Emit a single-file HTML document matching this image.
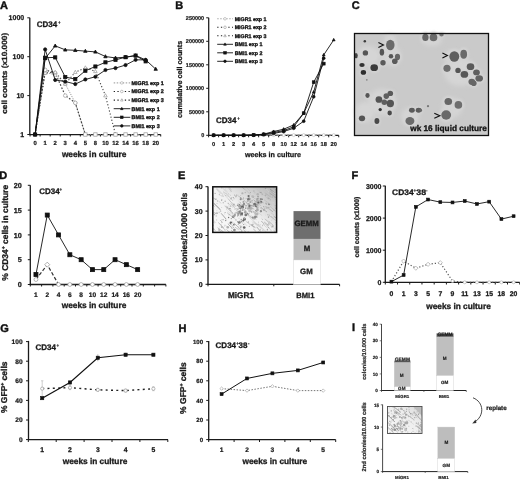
<!DOCTYPE html>
<html><head><meta charset="utf-8"><title>Figure</title>
<style>html,body{margin:0;padding:0;background:#fff;width:520px;height:481px;overflow:hidden}svg{display:block;filter:grayscale(1)}</style>
</head><body>
<svg width="520" height="481" viewBox="0 0 520 481" style='font-family:"Liberation Sans",sans-serif' font-weight="bold" text-rendering="geometricPrecision">
<defs>
<filter id="b1" x="-50%" y="-50%" width="200%" height="200%"><feGaussianBlur stdDeviation="0.75"/></filter>
<filter id="b2" x="-50%" y="-50%" width="200%" height="200%"><feGaussianBlur stdDeviation="2"/></filter>
<linearGradient id="ig" x1="0" y1="1" x2="1" y2="0"><stop offset="0" stop-color="#fafafa"/><stop offset="0.5" stop-color="#f0f0f0"/><stop offset="1" stop-color="#b4b4b4"/></linearGradient>
<linearGradient id="ig2" x1="0" y1="1" x2="1" y2="0"><stop offset="0" stop-color="#f7f7f7"/><stop offset="0.6" stop-color="#eeeeee"/><stop offset="1" stop-color="#d8d8d8"/></linearGradient>
<filter id="b4" x="-50%" y="-50%" width="200%" height="200%"><feGaussianBlur stdDeviation="1.1"/></filter>
<filter id="b3" x="-20%" y="-20%" width="140%" height="140%"><feGaussianBlur stdDeviation="0.35"/></filter>
</defs>
<rect width="520" height="481" fill="#fff"/>
<text x="-0.10" y="8.90" font-size="11" text-anchor="start" fill="#111" stroke="#111" stroke-width="0.412" >A</text>
<text x="175.20" y="8.90" font-size="11" text-anchor="start" fill="#111" stroke="#111" stroke-width="0.412" >B</text>
<text x="351.80" y="9.30" font-size="11" text-anchor="start" fill="#111" stroke="#111" stroke-width="0.412" >C</text>
<text x="-0.80" y="179.20" font-size="11" text-anchor="start" fill="#111" stroke="#111" stroke-width="0.412" >D</text>
<text x="178.10" y="179.20" font-size="11" text-anchor="start" fill="#111" stroke="#111" stroke-width="0.412" >E</text>
<text x="351.50" y="179.20" font-size="11" text-anchor="start" fill="#111" stroke="#111" stroke-width="0.412" >F</text>
<text x="0.30" y="332.20" font-size="11" text-anchor="start" fill="#111" stroke="#111" stroke-width="0.412" >G</text>
<text x="178.50" y="331.50" font-size="11" text-anchor="start" fill="#111" stroke="#111" stroke-width="0.412" >H</text>
<text x="352.00" y="330.50" font-size="11" text-anchor="start" fill="#111" stroke="#111" stroke-width="0.412" >I</text>
<line x1="29.80" y1="17.70" x2="29.80" y2="135.00" stroke="#1a1a1a" stroke-width="1.3" />
<line x1="29.20" y1="134.50" x2="160.70" y2="134.50" stroke="#1a1a1a" stroke-width="1.25" />
<line x1="27.30" y1="134.50" x2="29.80" y2="134.50" stroke="#1a1a1a" stroke-width="1" />
<text x="24.20" y="137.00" font-size="7.0" text-anchor="end" fill="#1a1a1a" stroke="#1a1a1a" stroke-width="0.263" >1</text>
<line x1="27.30" y1="95.60" x2="29.80" y2="95.60" stroke="#1a1a1a" stroke-width="1" />
<text x="24.20" y="98.10" font-size="7.0" text-anchor="end" fill="#1a1a1a" stroke="#1a1a1a" stroke-width="0.263" >10</text>
<line x1="27.30" y1="56.70" x2="29.80" y2="56.70" stroke="#1a1a1a" stroke-width="1" />
<text x="24.20" y="59.20" font-size="7.0" text-anchor="end" fill="#1a1a1a" stroke="#1a1a1a" stroke-width="0.263" >100</text>
<line x1="27.30" y1="17.80" x2="29.80" y2="17.80" stroke="#1a1a1a" stroke-width="1" />
<text x="24.20" y="20.30" font-size="7.0" text-anchor="end" fill="#1a1a1a" stroke="#1a1a1a" stroke-width="0.263" >1000</text>
<line x1="30.07" y1="134.50" x2="30.07" y2="136.50" stroke="#1a1a1a" stroke-width="1" />
<line x1="40.12" y1="134.50" x2="40.12" y2="136.50" stroke="#1a1a1a" stroke-width="1" />
<line x1="50.17" y1="134.50" x2="50.17" y2="136.50" stroke="#1a1a1a" stroke-width="1" />
<line x1="60.22" y1="134.50" x2="60.22" y2="136.50" stroke="#1a1a1a" stroke-width="1" />
<line x1="70.27" y1="134.50" x2="70.27" y2="136.50" stroke="#1a1a1a" stroke-width="1" />
<line x1="80.32" y1="134.50" x2="80.32" y2="136.50" stroke="#1a1a1a" stroke-width="1" />
<line x1="90.37" y1="134.50" x2="90.37" y2="136.50" stroke="#1a1a1a" stroke-width="1" />
<line x1="100.42" y1="134.50" x2="100.42" y2="136.50" stroke="#1a1a1a" stroke-width="1" />
<line x1="110.47" y1="134.50" x2="110.47" y2="136.50" stroke="#1a1a1a" stroke-width="1" />
<line x1="120.52" y1="134.50" x2="120.52" y2="136.50" stroke="#1a1a1a" stroke-width="1" />
<line x1="130.57" y1="134.50" x2="130.57" y2="136.50" stroke="#1a1a1a" stroke-width="1" />
<line x1="140.62" y1="134.50" x2="140.62" y2="136.50" stroke="#1a1a1a" stroke-width="1" />
<line x1="150.67" y1="134.50" x2="150.67" y2="136.50" stroke="#1a1a1a" stroke-width="1" />
<line x1="160.72" y1="134.50" x2="160.72" y2="136.50" stroke="#1a1a1a" stroke-width="1" />
<text x="35.10" y="145.30" font-size="5.9" text-anchor="middle" fill="#1a1a1a" stroke="#1a1a1a" stroke-width="0.221" >0</text>
<text x="45.15" y="145.30" font-size="5.9" text-anchor="middle" fill="#1a1a1a" stroke="#1a1a1a" stroke-width="0.221" >1</text>
<text x="55.20" y="145.30" font-size="5.9" text-anchor="middle" fill="#1a1a1a" stroke="#1a1a1a" stroke-width="0.221" >2</text>
<text x="65.25" y="145.30" font-size="5.9" text-anchor="middle" fill="#1a1a1a" stroke="#1a1a1a" stroke-width="0.221" >3</text>
<text x="75.30" y="145.30" font-size="5.9" text-anchor="middle" fill="#1a1a1a" stroke="#1a1a1a" stroke-width="0.221" >4</text>
<text x="85.35" y="145.30" font-size="5.9" text-anchor="middle" fill="#1a1a1a" stroke="#1a1a1a" stroke-width="0.221" >5</text>
<text x="95.40" y="145.30" font-size="5.9" text-anchor="middle" fill="#1a1a1a" stroke="#1a1a1a" stroke-width="0.221" >8</text>
<text x="105.45" y="145.30" font-size="5.9" text-anchor="middle" fill="#1a1a1a" stroke="#1a1a1a" stroke-width="0.221" >10</text>
<text x="115.50" y="145.30" font-size="5.9" text-anchor="middle" fill="#1a1a1a" stroke="#1a1a1a" stroke-width="0.221" >12</text>
<text x="125.55" y="145.30" font-size="5.9" text-anchor="middle" fill="#1a1a1a" stroke="#1a1a1a" stroke-width="0.221" >14</text>
<text x="135.60" y="145.30" font-size="5.9" text-anchor="middle" fill="#1a1a1a" stroke="#1a1a1a" stroke-width="0.221" >16</text>
<text x="145.65" y="145.30" font-size="5.9" text-anchor="middle" fill="#1a1a1a" stroke="#1a1a1a" stroke-width="0.221" >18</text>
<text x="155.70" y="145.30" font-size="5.9" text-anchor="middle" fill="#1a1a1a" stroke="#1a1a1a" stroke-width="0.221" >20</text>
<text x="94.20" y="156.80" font-size="8.3" text-anchor="middle" fill="#1a1a1a" stroke="#1a1a1a" stroke-width="0.311" >weeks in culture</text>
<text x="0" y="0" font-size="7.5" text-anchor="middle" fill="#1a1a1a" stroke="#1a1a1a" stroke-width="0.281" textLength="81.0" lengthAdjust="spacingAndGlyphs" transform="translate(6.60,73.30) rotate(-90)">cell counts (x10.000)</text>
<text x="36.80" y="26.90" font-size="8.0" text-anchor="start" fill="#1a1a1a" stroke="#1a1a1a" stroke-width="0.300" >CD34</text>
<text x="58.00" y="23.80" font-size="4.5" text-anchor="start" fill="#1a1a1a" stroke="#1a1a1a" stroke-width="0.169" >+</text>
<polyline points="35.10,134.50 45.15,72.18 55.20,74.93 65.25,83.89 75.30,102.88 85.35,134.50 95.40,134.50 105.45,134.50 115.50,134.50 125.55,134.50 135.60,134.50 145.65,134.50 155.70,134.50" fill="none" stroke="#9a9a9a" stroke-width="1" stroke-dasharray="1.2,1.2" />
<polyline points="35.10,134.50 45.15,69.82 55.20,73.05 65.25,95.60 75.30,102.88 85.35,134.50 95.40,134.50 105.45,134.50 115.50,134.50 125.55,134.50 135.60,134.50 145.65,134.50 155.70,134.50" fill="none" stroke="#444" stroke-width="1.2" stroke-dasharray="1.6,1.8" />
<polyline points="35.10,134.50 45.15,73.05 55.20,72.18 65.25,83.89 75.30,72.18 85.35,67.75 95.40,71.36 105.45,95.60 115.50,134.50 125.55,134.50 135.60,134.50 145.65,134.50 155.70,134.50" fill="none" stroke="#444" stroke-width="1.1" stroke-dasharray="1.2,2" />
<circle cx="45.15" cy="72.18" r="1.70" fill="#fff" stroke="#aaa" stroke-width="0.7"/>
<circle cx="55.20" cy="74.93" r="1.70" fill="#fff" stroke="#aaa" stroke-width="0.7"/>
<circle cx="65.25" cy="83.89" r="1.70" fill="#fff" stroke="#aaa" stroke-width="0.7"/>
<circle cx="75.30" cy="102.88" r="1.70" fill="#fff" stroke="#aaa" stroke-width="0.7"/>
<rect x="83.65" y="132.80" width="3.40" height="3.40" fill="#fff" stroke="#999" stroke-width="0.7"/>
<rect x="93.70" y="132.80" width="3.40" height="3.40" fill="#fff" stroke="#999" stroke-width="0.7"/>
<rect x="103.75" y="132.80" width="3.40" height="3.40" fill="#fff" stroke="#999" stroke-width="0.7"/>
<rect x="113.80" y="132.80" width="3.40" height="3.40" fill="#fff" stroke="#999" stroke-width="0.7"/>
<rect x="123.85" y="132.80" width="3.40" height="3.40" fill="#fff" stroke="#999" stroke-width="0.7"/>
<rect x="133.90" y="132.80" width="3.40" height="3.40" fill="#fff" stroke="#999" stroke-width="0.7"/>
<rect x="143.95" y="132.80" width="3.40" height="3.40" fill="#fff" stroke="#999" stroke-width="0.7"/>
<rect x="154.00" y="132.80" width="3.40" height="3.40" fill="#fff" stroke="#999" stroke-width="0.7"/>
<circle cx="45.15" cy="69.82" r="1.80" fill="#fff" stroke="#999" stroke-width="0.7"/>
<circle cx="55.20" cy="73.05" r="1.80" fill="#fff" stroke="#999" stroke-width="0.7"/>
<circle cx="65.25" cy="95.60" r="1.80" fill="#fff" stroke="#999" stroke-width="0.7"/>
<circle cx="75.30" cy="102.88" r="1.80" fill="#fff" stroke="#999" stroke-width="0.7"/>
<polygon points="45.15,71.10 43.35,74.34 46.95,74.34" fill="#fff" stroke="#999" stroke-width="0.7"/>
<polygon points="55.20,70.24 53.40,73.48 57.00,73.48" fill="#fff" stroke="#999" stroke-width="0.7"/>
<polygon points="65.25,81.95 63.45,85.19 67.05,85.19" fill="#fff" stroke="#999" stroke-width="0.7"/>
<polygon points="75.30,70.24 73.50,73.48 77.10,73.48" fill="#fff" stroke="#999" stroke-width="0.7"/>
<polygon points="85.35,65.80 83.55,69.04 87.15,69.04" fill="#fff" stroke="#999" stroke-width="0.7"/>
<polygon points="95.40,69.41 93.60,72.65 97.20,72.65" fill="#fff" stroke="#999" stroke-width="0.7"/>
<polygon points="105.45,93.66 103.65,96.90 107.25,96.90" fill="#fff" stroke="#999" stroke-width="0.7"/>
<polyline points="35.10,134.50 45.15,58.48 55.20,45.86 65.25,49.85 75.30,50.31 85.35,51.14 95.40,51.88 105.45,56.53 115.50,57.93 125.55,57.21 135.60,55.56 145.65,59.85 155.70,69.10" fill="none" stroke="#111" stroke-width="0.9" />
<polyline points="35.10,134.50 45.15,57.75 55.20,57.39 65.25,77.04 75.30,79.14 85.35,70.72 95.40,66.50 105.45,62.34 115.50,59.85 125.55,57.21 135.60,55.56 145.65,61.34" fill="none" stroke="#111" stroke-width="0.9" />
<polyline points="35.10,134.50 45.15,49.41 55.20,79.99 65.25,81.53 75.30,84.06 85.35,79.46 95.40,76.76 105.45,70.00 115.50,68.08 125.55,65.05 135.60,59.85 145.65,59.85" fill="none" stroke="#111" stroke-width="0.9" />
<polygon points="35.10,132.66 33.40,135.72 36.80,135.72" fill="#111" stroke="#111" stroke-width="0.8"/>
<polygon points="45.15,56.64 43.45,59.70 46.85,59.70" fill="#111" stroke="#111" stroke-width="0.8"/>
<polygon points="55.20,44.02 53.50,47.08 56.90,47.08" fill="#111" stroke="#111" stroke-width="0.8"/>
<polygon points="65.25,48.01 63.55,51.07 66.95,51.07" fill="#111" stroke="#111" stroke-width="0.8"/>
<polygon points="75.30,48.47 73.60,51.53 77.00,51.53" fill="#111" stroke="#111" stroke-width="0.8"/>
<polygon points="85.35,49.30 83.65,52.36 87.05,52.36" fill="#111" stroke="#111" stroke-width="0.8"/>
<polygon points="95.40,50.05 93.70,53.11 97.10,53.11" fill="#111" stroke="#111" stroke-width="0.8"/>
<polygon points="105.45,54.70 103.75,57.76 107.15,57.76" fill="#111" stroke="#111" stroke-width="0.8"/>
<polygon points="115.50,56.09 113.80,59.15 117.20,59.15" fill="#111" stroke="#111" stroke-width="0.8"/>
<polygon points="125.55,55.38 123.85,58.44 127.25,58.44" fill="#111" stroke="#111" stroke-width="0.8"/>
<polygon points="135.60,53.72 133.90,56.78 137.30,56.78" fill="#111" stroke="#111" stroke-width="0.8"/>
<polygon points="145.65,58.01 143.95,61.07 147.35,61.07" fill="#111" stroke="#111" stroke-width="0.8"/>
<polygon points="155.70,67.26 154.00,70.32 157.40,70.32" fill="#111" stroke="#111" stroke-width="0.8"/>
<rect x="33.50" y="132.90" width="3.20" height="3.20" fill="#111" stroke="#111" stroke-width="0.8"/>
<rect x="43.55" y="56.15" width="3.20" height="3.20" fill="#111" stroke="#111" stroke-width="0.8"/>
<rect x="53.60" y="55.79" width="3.20" height="3.20" fill="#111" stroke="#111" stroke-width="0.8"/>
<rect x="63.65" y="75.44" width="3.20" height="3.20" fill="#111" stroke="#111" stroke-width="0.8"/>
<rect x="73.70" y="77.54" width="3.20" height="3.20" fill="#111" stroke="#111" stroke-width="0.8"/>
<rect x="83.75" y="69.12" width="3.20" height="3.20" fill="#111" stroke="#111" stroke-width="0.8"/>
<rect x="93.80" y="64.90" width="3.20" height="3.20" fill="#111" stroke="#111" stroke-width="0.8"/>
<rect x="103.85" y="60.74" width="3.20" height="3.20" fill="#111" stroke="#111" stroke-width="0.8"/>
<rect x="113.90" y="58.25" width="3.20" height="3.20" fill="#111" stroke="#111" stroke-width="0.8"/>
<rect x="123.95" y="55.61" width="3.20" height="3.20" fill="#111" stroke="#111" stroke-width="0.8"/>
<rect x="134.00" y="53.96" width="3.20" height="3.20" fill="#111" stroke="#111" stroke-width="0.8"/>
<rect x="144.05" y="59.74" width="3.20" height="3.20" fill="#111" stroke="#111" stroke-width="0.8"/>
<circle cx="35.10" cy="134.50" r="1.60" fill="#111" stroke="#111" stroke-width="0.8"/>
<circle cx="45.15" cy="49.41" r="1.60" fill="#111" stroke="#111" stroke-width="0.8"/>
<circle cx="55.20" cy="79.99" r="1.60" fill="#111" stroke="#111" stroke-width="0.8"/>
<circle cx="65.25" cy="81.53" r="1.60" fill="#111" stroke="#111" stroke-width="0.8"/>
<circle cx="75.30" cy="84.06" r="1.60" fill="#111" stroke="#111" stroke-width="0.8"/>
<circle cx="85.35" cy="79.46" r="1.60" fill="#111" stroke="#111" stroke-width="0.8"/>
<circle cx="95.40" cy="76.76" r="1.60" fill="#111" stroke="#111" stroke-width="0.8"/>
<circle cx="105.45" cy="70.00" r="1.60" fill="#111" stroke="#111" stroke-width="0.8"/>
<circle cx="115.50" cy="68.08" r="1.60" fill="#111" stroke="#111" stroke-width="0.8"/>
<circle cx="125.55" cy="65.05" r="1.60" fill="#111" stroke="#111" stroke-width="0.8"/>
<circle cx="135.60" cy="59.85" r="1.60" fill="#111" stroke="#111" stroke-width="0.8"/>
<circle cx="145.65" cy="59.85" r="1.60" fill="#111" stroke="#111" stroke-width="0.8"/>
<polyline points="113.70,82.90 130.30,82.90" fill="none" stroke="#aaa" stroke-width="1.1" stroke-dasharray="1.5,1.5" />
<circle cx="121.80" cy="82.90" r="1.30" fill="#fff" stroke="#aaa" stroke-width="0.6"/>
<text x="131.50" y="84.80" font-size="5.4" text-anchor="start" fill="#111" stroke="#111" stroke-width="0.338" >MiGR1 exp 1</text>
<polyline points="113.70,91.50 130.30,91.50" fill="none" stroke="#222" stroke-width="1.1" stroke-dasharray="1.3,2.4" />
<circle cx="121.80" cy="91.50" r="1.30" fill="#fff" stroke="#999" stroke-width="0.6"/>
<text x="131.50" y="93.40" font-size="5.4" text-anchor="start" fill="#111" stroke="#111" stroke-width="0.338" >MiGR1 exp 2</text>
<polyline points="113.70,100.10 130.30,100.10" fill="none" stroke="#222" stroke-width="1.1" stroke-dasharray="1.3,2.4" />
<polygon points="121.80,98.70 120.50,101.04 123.10,101.04" fill="#fff" stroke="#999" stroke-width="0.6"/>
<text x="131.50" y="102.00" font-size="5.4" text-anchor="start" fill="#111" stroke="#111" stroke-width="0.338" >MiGR1 exp 3</text>
<polyline points="113.70,108.70 130.30,108.70" fill="none" stroke="#111" stroke-width="0.9" />
<polygon points="121.80,107.30 120.50,109.64 123.10,109.64" fill="#111" stroke="#111" stroke-width="0.6"/>
<text x="131.50" y="110.60" font-size="5.4" text-anchor="start" fill="#111" stroke="#111" stroke-width="0.338" >BMI1 exp 1</text>
<polyline points="113.70,117.30 130.30,117.30" fill="none" stroke="#111" stroke-width="0.9" />
<rect x="120.50" y="116.00" width="2.60" height="2.60" fill="#111" stroke="#111" stroke-width="0.6"/>
<text x="131.50" y="119.20" font-size="5.4" text-anchor="start" fill="#111" stroke="#111" stroke-width="0.338" >BMI1 exp 2</text>
<polyline points="113.70,125.90 130.30,125.90" fill="none" stroke="#111" stroke-width="0.9" />
<circle cx="121.80" cy="125.90" r="1.30" fill="#111" stroke="#111" stroke-width="0.6"/>
<text x="131.50" y="127.80" font-size="5.4" text-anchor="start" fill="#111" stroke="#111" stroke-width="0.338" >BMI1 exp 3</text>
<line x1="208.70" y1="17.70" x2="208.70" y2="135.30" stroke="#1a1a1a" stroke-width="1.25" />
<line x1="208.20" y1="135.30" x2="338.70" y2="135.30" stroke="#1a1a1a" stroke-width="1.2" />
<line x1="206.20" y1="135.30" x2="208.70" y2="135.30" stroke="#1a1a1a" stroke-width="1" />
<text x="204.20" y="137.30" font-size="5.5" text-anchor="end" fill="#1a1a1a" stroke="#1a1a1a" stroke-width="0.206" >0</text>
<line x1="206.20" y1="111.80" x2="208.70" y2="111.80" stroke="#1a1a1a" stroke-width="1" />
<text x="204.20" y="113.80" font-size="5.5" text-anchor="end" fill="#1a1a1a" stroke="#1a1a1a" stroke-width="0.206" >50000</text>
<line x1="206.20" y1="88.30" x2="208.70" y2="88.30" stroke="#1a1a1a" stroke-width="1" />
<text x="204.20" y="90.30" font-size="5.5" text-anchor="end" fill="#1a1a1a" stroke="#1a1a1a" stroke-width="0.206" >100000</text>
<line x1="206.20" y1="64.80" x2="208.70" y2="64.80" stroke="#1a1a1a" stroke-width="1" />
<text x="204.20" y="66.80" font-size="5.5" text-anchor="end" fill="#1a1a1a" stroke="#1a1a1a" stroke-width="0.206" >150000</text>
<line x1="206.20" y1="41.30" x2="208.70" y2="41.30" stroke="#1a1a1a" stroke-width="1" />
<text x="204.20" y="43.30" font-size="5.5" text-anchor="end" fill="#1a1a1a" stroke="#1a1a1a" stroke-width="0.206" >200000</text>
<line x1="206.20" y1="17.80" x2="208.70" y2="17.80" stroke="#1a1a1a" stroke-width="1" />
<text x="204.20" y="19.80" font-size="5.5" text-anchor="end" fill="#1a1a1a" stroke="#1a1a1a" stroke-width="0.206" >250000</text>
<line x1="208.60" y1="135.30" x2="208.60" y2="137.30" stroke="#1a1a1a" stroke-width="1" />
<line x1="218.61" y1="135.30" x2="218.61" y2="137.30" stroke="#1a1a1a" stroke-width="1" />
<line x1="228.62" y1="135.30" x2="228.62" y2="137.30" stroke="#1a1a1a" stroke-width="1" />
<line x1="238.63" y1="135.30" x2="238.63" y2="137.30" stroke="#1a1a1a" stroke-width="1" />
<line x1="248.64" y1="135.30" x2="248.64" y2="137.30" stroke="#1a1a1a" stroke-width="1" />
<line x1="258.65" y1="135.30" x2="258.65" y2="137.30" stroke="#1a1a1a" stroke-width="1" />
<line x1="268.66" y1="135.30" x2="268.66" y2="137.30" stroke="#1a1a1a" stroke-width="1" />
<line x1="278.67" y1="135.30" x2="278.67" y2="137.30" stroke="#1a1a1a" stroke-width="1" />
<line x1="288.68" y1="135.30" x2="288.68" y2="137.30" stroke="#1a1a1a" stroke-width="1" />
<line x1="298.69" y1="135.30" x2="298.69" y2="137.30" stroke="#1a1a1a" stroke-width="1" />
<line x1="308.70" y1="135.30" x2="308.70" y2="137.30" stroke="#1a1a1a" stroke-width="1" />
<line x1="318.71" y1="135.30" x2="318.71" y2="137.30" stroke="#1a1a1a" stroke-width="1" />
<line x1="328.72" y1="135.30" x2="328.72" y2="137.30" stroke="#1a1a1a" stroke-width="1" />
<line x1="338.73" y1="135.30" x2="338.73" y2="137.30" stroke="#1a1a1a" stroke-width="1" />
<text x="213.60" y="146.00" font-size="5.7" text-anchor="middle" fill="#1a1a1a" stroke="#1a1a1a" stroke-width="0.214" >0</text>
<text x="223.61" y="146.00" font-size="5.7" text-anchor="middle" fill="#1a1a1a" stroke="#1a1a1a" stroke-width="0.214" >1</text>
<text x="233.62" y="146.00" font-size="5.7" text-anchor="middle" fill="#1a1a1a" stroke="#1a1a1a" stroke-width="0.214" >2</text>
<text x="243.63" y="146.00" font-size="5.7" text-anchor="middle" fill="#1a1a1a" stroke="#1a1a1a" stroke-width="0.214" >3</text>
<text x="253.64" y="146.00" font-size="5.7" text-anchor="middle" fill="#1a1a1a" stroke="#1a1a1a" stroke-width="0.214" >4</text>
<text x="263.65" y="146.00" font-size="5.7" text-anchor="middle" fill="#1a1a1a" stroke="#1a1a1a" stroke-width="0.214" >5</text>
<text x="273.66" y="146.00" font-size="5.7" text-anchor="middle" fill="#1a1a1a" stroke="#1a1a1a" stroke-width="0.214" >8</text>
<text x="283.67" y="146.00" font-size="5.7" text-anchor="middle" fill="#1a1a1a" stroke="#1a1a1a" stroke-width="0.214" >10</text>
<text x="293.68" y="146.00" font-size="5.7" text-anchor="middle" fill="#1a1a1a" stroke="#1a1a1a" stroke-width="0.214" >12</text>
<text x="303.69" y="146.00" font-size="5.7" text-anchor="middle" fill="#1a1a1a" stroke="#1a1a1a" stroke-width="0.214" >14</text>
<text x="313.70" y="146.00" font-size="5.7" text-anchor="middle" fill="#1a1a1a" stroke="#1a1a1a" stroke-width="0.214" >16</text>
<text x="323.71" y="146.00" font-size="5.7" text-anchor="middle" fill="#1a1a1a" stroke="#1a1a1a" stroke-width="0.214" >18</text>
<text x="333.72" y="146.00" font-size="5.7" text-anchor="middle" fill="#1a1a1a" stroke="#1a1a1a" stroke-width="0.214" >20</text>
<text x="273.00" y="156.80" font-size="7.2" text-anchor="middle" fill="#1a1a1a" stroke="#1a1a1a" stroke-width="0.270" >weeks in culture</text>
<text x="0" y="0" font-size="7.2" text-anchor="middle" fill="#1a1a1a" stroke="#1a1a1a" stroke-width="0.270" transform="translate(181.70,79.40) rotate(-90)">cumulative cell counts</text>
<text x="216.00" y="122.70" font-size="8.0" text-anchor="start" fill="#1a1a1a" stroke="#1a1a1a" stroke-width="0.300" >CD34</text>
<text x="237.30" y="119.60" font-size="4.5" text-anchor="start" fill="#1a1a1a" stroke="#1a1a1a" stroke-width="0.169" >+</text>
<polyline points="213.60,135.30 223.61,135.30 233.62,135.30 243.63,135.30 253.64,135.30 263.65,135.30 273.66,135.30 283.67,135.30 293.68,135.30 303.69,135.30 313.70,135.30 323.71,135.30 333.72,135.30" fill="none" stroke="#888" stroke-width="0.8" stroke-dasharray="2,1.5" />
<polyline points="213.60,135.30 223.61,135.30 233.62,135.30 243.63,135.30 253.64,135.30 263.65,135.30 273.66,135.30 283.67,135.30 293.68,135.30 303.69,135.30 313.70,135.30 323.71,135.30 333.72,135.30" fill="none" stroke="#888" stroke-width="0.8" stroke-dasharray="2,1.5" />
<polyline points="213.60,135.30 223.61,135.30 233.62,135.30 243.63,135.30 253.64,135.30 263.65,135.30 273.66,135.30 283.67,135.30 293.68,135.30 303.69,135.30 313.70,135.30 323.71,135.30 333.72,135.30" fill="none" stroke="#888" stroke-width="0.8" stroke-dasharray="2,1.5" />
<circle cx="213.60" cy="135.10" r="1.50" fill="#fff" stroke="#bbb" stroke-width="0.6"/>
<circle cx="223.61" cy="135.10" r="1.50" fill="#fff" stroke="#bbb" stroke-width="0.6"/>
<circle cx="233.62" cy="135.10" r="1.50" fill="#fff" stroke="#bbb" stroke-width="0.6"/>
<circle cx="243.63" cy="135.10" r="1.50" fill="#fff" stroke="#bbb" stroke-width="0.6"/>
<circle cx="253.64" cy="135.10" r="1.50" fill="#fff" stroke="#bbb" stroke-width="0.6"/>
<circle cx="263.65" cy="135.10" r="1.50" fill="#fff" stroke="#bbb" stroke-width="0.6"/>
<circle cx="273.66" cy="135.10" r="1.50" fill="#fff" stroke="#bbb" stroke-width="0.6"/>
<circle cx="283.67" cy="135.10" r="1.50" fill="#fff" stroke="#bbb" stroke-width="0.6"/>
<circle cx="293.68" cy="135.10" r="1.50" fill="#fff" stroke="#bbb" stroke-width="0.6"/>
<circle cx="303.69" cy="135.10" r="1.50" fill="#fff" stroke="#bbb" stroke-width="0.6"/>
<circle cx="313.70" cy="135.10" r="1.50" fill="#fff" stroke="#bbb" stroke-width="0.6"/>
<circle cx="323.71" cy="135.10" r="1.50" fill="#fff" stroke="#bbb" stroke-width="0.6"/>
<circle cx="333.72" cy="135.10" r="1.50" fill="#fff" stroke="#bbb" stroke-width="0.6"/>
<polyline points="213.60,135.30 223.61,135.30 233.62,135.30 243.63,135.30 253.64,135.06 263.65,134.12 273.66,131.54 283.67,129.19 293.68,124.96 303.69,113.21 313.70,92.06 323.71,54.93 333.72,39.89" fill="none" stroke="#111" stroke-width="0.9" />
<polygon points="213.60,133.73 212.15,136.34 215.05,136.34" fill="#111" stroke="#111" stroke-width="0.6"/>
<polygon points="223.61,133.73 222.16,136.34 225.06,136.34" fill="#111" stroke="#111" stroke-width="0.6"/>
<polygon points="233.62,133.73 232.17,136.34 235.07,136.34" fill="#111" stroke="#111" stroke-width="0.6"/>
<polygon points="243.63,133.73 242.18,136.34 245.08,136.34" fill="#111" stroke="#111" stroke-width="0.6"/>
<polygon points="253.64,133.50 252.19,136.11 255.09,136.11" fill="#111" stroke="#111" stroke-width="0.6"/>
<polygon points="263.65,132.56 262.20,135.17 265.10,135.17" fill="#111" stroke="#111" stroke-width="0.6"/>
<polygon points="273.66,129.97 272.21,132.58 275.11,132.58" fill="#111" stroke="#111" stroke-width="0.6"/>
<polygon points="283.67,127.62 282.22,130.23 285.12,130.23" fill="#111" stroke="#111" stroke-width="0.6"/>
<polygon points="293.68,123.39 292.23,126.00 295.13,126.00" fill="#111" stroke="#111" stroke-width="0.6"/>
<polygon points="303.69,111.64 302.24,114.25 305.14,114.25" fill="#111" stroke="#111" stroke-width="0.6"/>
<polygon points="313.70,90.49 312.25,93.10 315.15,93.10" fill="#111" stroke="#111" stroke-width="0.6"/>
<polygon points="323.71,53.36 322.26,55.97 325.16,55.97" fill="#111" stroke="#111" stroke-width="0.6"/>
<polygon points="333.72,38.32 332.27,40.93 335.17,40.93" fill="#111" stroke="#111" stroke-width="0.6"/>
<polyline points="213.60,135.30 223.61,135.30 233.62,135.30 243.63,135.30 253.64,135.16 263.65,134.59 273.66,133.42 283.67,131.54 293.68,128.25 303.69,121.20 313.70,96.76 323.71,58.22" fill="none" stroke="#111" stroke-width="0.9" />
<circle cx="213.60" cy="135.30" r="1.45" fill="#111" stroke="#111" stroke-width="0.6"/>
<circle cx="223.61" cy="135.30" r="1.45" fill="#111" stroke="#111" stroke-width="0.6"/>
<circle cx="233.62" cy="135.30" r="1.45" fill="#111" stroke="#111" stroke-width="0.6"/>
<circle cx="243.63" cy="135.30" r="1.45" fill="#111" stroke="#111" stroke-width="0.6"/>
<circle cx="253.64" cy="135.16" r="1.45" fill="#111" stroke="#111" stroke-width="0.6"/>
<circle cx="263.65" cy="134.59" r="1.45" fill="#111" stroke="#111" stroke-width="0.6"/>
<circle cx="273.66" cy="133.42" r="1.45" fill="#111" stroke="#111" stroke-width="0.6"/>
<circle cx="283.67" cy="131.54" r="1.45" fill="#111" stroke="#111" stroke-width="0.6"/>
<circle cx="293.68" cy="128.25" r="1.45" fill="#111" stroke="#111" stroke-width="0.6"/>
<circle cx="303.69" cy="121.20" r="1.45" fill="#111" stroke="#111" stroke-width="0.6"/>
<circle cx="313.70" cy="96.76" r="1.45" fill="#111" stroke="#111" stroke-width="0.6"/>
<circle cx="323.71" cy="58.22" r="1.45" fill="#111" stroke="#111" stroke-width="0.6"/>
<polyline points="213.60,135.30 223.61,135.30 233.62,135.30 243.63,135.30 253.64,135.06 263.65,134.36 273.66,132.48 283.67,130.60 293.68,126.84 303.69,113.21 313.70,82.19 323.71,63.63" fill="none" stroke="#111" stroke-width="0.9" />
<rect x="212.15" y="133.85" width="2.90" height="2.90" fill="#111" stroke="#111" stroke-width="0.6"/>
<rect x="222.16" y="133.85" width="2.90" height="2.90" fill="#111" stroke="#111" stroke-width="0.6"/>
<rect x="232.17" y="133.85" width="2.90" height="2.90" fill="#111" stroke="#111" stroke-width="0.6"/>
<rect x="242.18" y="133.85" width="2.90" height="2.90" fill="#111" stroke="#111" stroke-width="0.6"/>
<rect x="252.19" y="133.62" width="2.90" height="2.90" fill="#111" stroke="#111" stroke-width="0.6"/>
<rect x="262.20" y="132.91" width="2.90" height="2.90" fill="#111" stroke="#111" stroke-width="0.6"/>
<rect x="272.21" y="131.03" width="2.90" height="2.90" fill="#111" stroke="#111" stroke-width="0.6"/>
<rect x="282.22" y="129.15" width="2.90" height="2.90" fill="#111" stroke="#111" stroke-width="0.6"/>
<rect x="292.23" y="125.39" width="2.90" height="2.90" fill="#111" stroke="#111" stroke-width="0.6"/>
<rect x="302.24" y="111.76" width="2.90" height="2.90" fill="#111" stroke="#111" stroke-width="0.6"/>
<rect x="312.25" y="80.74" width="2.90" height="2.90" fill="#111" stroke="#111" stroke-width="0.6"/>
<rect x="322.26" y="62.18" width="2.90" height="2.90" fill="#111" stroke="#111" stroke-width="0.6"/>
<polyline points="217.20,18.80 233.00,18.80" fill="none" stroke="#aaa" stroke-width="1.1" stroke-dasharray="1.5,1.5" />
<circle cx="225.00" cy="18.80" r="1.30" fill="#fff" stroke="#aaa" stroke-width="0.6"/>
<text x="234.70" y="20.70" font-size="5.3" text-anchor="start" fill="#111" stroke="#111" stroke-width="0.331" >MiGR1 exp 1</text>
<polyline points="217.20,27.30 233.00,27.30" fill="none" stroke="#222" stroke-width="1.1" stroke-dasharray="1.3,2.4" />
<circle cx="225.00" cy="27.30" r="1.30" fill="#fff" stroke="#999" stroke-width="0.6"/>
<text x="234.70" y="29.20" font-size="5.3" text-anchor="start" fill="#111" stroke="#111" stroke-width="0.331" >MiGR1 exp 2</text>
<polyline points="217.20,35.80 233.00,35.80" fill="none" stroke="#222" stroke-width="1.1" stroke-dasharray="1.3,2.4" />
<polygon points="225.00,34.40 223.70,36.74 226.30,36.74" fill="#fff" stroke="#999" stroke-width="0.6"/>
<text x="234.70" y="37.70" font-size="5.3" text-anchor="start" fill="#111" stroke="#111" stroke-width="0.331" >MiGR1 exp 3</text>
<polyline points="217.20,44.30 233.00,44.30" fill="none" stroke="#111" stroke-width="0.9" />
<polygon points="225.00,42.90 223.70,45.24 226.30,45.24" fill="#111" stroke="#111" stroke-width="0.6"/>
<text x="234.70" y="46.20" font-size="5.3" text-anchor="start" fill="#111" stroke="#111" stroke-width="0.331" >BMI1 exp 1</text>
<polyline points="217.20,52.80 233.00,52.80" fill="none" stroke="#111" stroke-width="0.9" />
<rect x="223.70" y="51.50" width="2.60" height="2.60" fill="#111" stroke="#111" stroke-width="0.6"/>
<text x="234.70" y="54.70" font-size="5.3" text-anchor="start" fill="#111" stroke="#111" stroke-width="0.331" >BMI1 exp 2</text>
<polyline points="217.20,61.30 233.00,61.30" fill="none" stroke="#111" stroke-width="0.9" />
<circle cx="225.00" cy="61.30" r="1.30" fill="#111" stroke="#111" stroke-width="0.6"/>
<text x="234.70" y="63.20" font-size="5.3" text-anchor="start" fill="#111" stroke="#111" stroke-width="0.331" >BMI1 exp 3</text>
<line x1="30.30" y1="185.20" x2="30.30" y2="285.00" stroke="#1a1a1a" stroke-width="1.3" />
<line x1="29.70" y1="284.50" x2="165.90" y2="284.50" stroke="#1a1a1a" stroke-width="1.3" />
<line x1="27.80" y1="284.50" x2="30.30" y2="284.50" stroke="#1a1a1a" stroke-width="1" />
<text x="21.70" y="287.10" font-size="7.2" text-anchor="end" fill="#1a1a1a" stroke="#1a1a1a" stroke-width="0.270" >0</text>
<line x1="27.80" y1="259.70" x2="30.30" y2="259.70" stroke="#1a1a1a" stroke-width="1" />
<text x="21.70" y="262.30" font-size="7.2" text-anchor="end" fill="#1a1a1a" stroke="#1a1a1a" stroke-width="0.270" >5</text>
<line x1="27.80" y1="234.90" x2="30.30" y2="234.90" stroke="#1a1a1a" stroke-width="1" />
<text x="21.70" y="237.50" font-size="7.2" text-anchor="end" fill="#1a1a1a" stroke="#1a1a1a" stroke-width="0.270" >10</text>
<line x1="27.80" y1="210.10" x2="30.30" y2="210.10" stroke="#1a1a1a" stroke-width="1" />
<text x="21.70" y="212.70" font-size="7.2" text-anchor="end" fill="#1a1a1a" stroke="#1a1a1a" stroke-width="0.270" >15</text>
<line x1="27.80" y1="185.30" x2="30.30" y2="185.30" stroke="#1a1a1a" stroke-width="1" />
<text x="21.70" y="187.90" font-size="7.2" text-anchor="end" fill="#1a1a1a" stroke="#1a1a1a" stroke-width="0.270" >20</text>
<line x1="30.30" y1="284.50" x2="30.30" y2="286.50" stroke="#1a1a1a" stroke-width="1" />
<line x1="41.60" y1="284.50" x2="41.60" y2="286.50" stroke="#1a1a1a" stroke-width="1" />
<line x1="52.90" y1="284.50" x2="52.90" y2="286.50" stroke="#1a1a1a" stroke-width="1" />
<line x1="64.20" y1="284.50" x2="64.20" y2="286.50" stroke="#1a1a1a" stroke-width="1" />
<line x1="75.50" y1="284.50" x2="75.50" y2="286.50" stroke="#1a1a1a" stroke-width="1" />
<line x1="86.80" y1="284.50" x2="86.80" y2="286.50" stroke="#1a1a1a" stroke-width="1" />
<line x1="98.10" y1="284.50" x2="98.10" y2="286.50" stroke="#1a1a1a" stroke-width="1" />
<line x1="109.40" y1="284.50" x2="109.40" y2="286.50" stroke="#1a1a1a" stroke-width="1" />
<line x1="120.70" y1="284.50" x2="120.70" y2="286.50" stroke="#1a1a1a" stroke-width="1" />
<line x1="132.00" y1="284.50" x2="132.00" y2="286.50" stroke="#1a1a1a" stroke-width="1" />
<line x1="143.30" y1="284.50" x2="143.30" y2="286.50" stroke="#1a1a1a" stroke-width="1" />
<line x1="154.60" y1="284.50" x2="154.60" y2="286.50" stroke="#1a1a1a" stroke-width="1" />
<line x1="165.90" y1="284.50" x2="165.90" y2="286.50" stroke="#1a1a1a" stroke-width="1" />
<text x="35.95" y="297.00" font-size="6.6" text-anchor="middle" fill="#1a1a1a" stroke="#1a1a1a" stroke-width="0.247" >1</text>
<text x="47.25" y="297.00" font-size="6.6" text-anchor="middle" fill="#1a1a1a" stroke="#1a1a1a" stroke-width="0.247" >2</text>
<text x="58.55" y="297.00" font-size="6.6" text-anchor="middle" fill="#1a1a1a" stroke="#1a1a1a" stroke-width="0.247" >4</text>
<text x="69.85" y="297.00" font-size="6.6" text-anchor="middle" fill="#1a1a1a" stroke="#1a1a1a" stroke-width="0.247" >6</text>
<text x="81.15" y="297.00" font-size="6.6" text-anchor="middle" fill="#1a1a1a" stroke="#1a1a1a" stroke-width="0.247" >8</text>
<text x="92.45" y="297.00" font-size="6.6" text-anchor="middle" fill="#1a1a1a" stroke="#1a1a1a" stroke-width="0.247" >10</text>
<text x="103.75" y="297.00" font-size="6.6" text-anchor="middle" fill="#1a1a1a" stroke="#1a1a1a" stroke-width="0.247" >12</text>
<text x="115.05" y="297.00" font-size="6.6" text-anchor="middle" fill="#1a1a1a" stroke="#1a1a1a" stroke-width="0.247" >14</text>
<text x="126.35" y="297.00" font-size="6.6" text-anchor="middle" fill="#1a1a1a" stroke="#1a1a1a" stroke-width="0.247" >16</text>
<text x="137.65" y="297.00" font-size="6.6" text-anchor="middle" fill="#1a1a1a" stroke="#1a1a1a" stroke-width="0.247" >20</text>
<text x="94.00" y="308.30" font-size="8.3" text-anchor="middle" fill="#1a1a1a" stroke="#1a1a1a" stroke-width="0.311" >weeks in culture</text>
<text x="0" y="0" font-size="8.45" text-anchor="middle" fill="#1a1a1a" stroke="#1a1a1a" stroke-width="0.317" transform="translate(8.00,232.80) rotate(-90)">% CD34<tspan font-size="5" dy="-3">+</tspan><tspan dy="3"> cells in culture</tspan></text>
<text x="39.20" y="194.00" font-size="8.0" text-anchor="start" fill="#1a1a1a" stroke="#1a1a1a" stroke-width="0.300" >CD34</text>
<text x="59.60" y="190.60" font-size="4.5" text-anchor="start" fill="#1a1a1a" stroke="#1a1a1a" stroke-width="0.169" >+</text>
<polyline points="35.95,279.54 47.25,264.66 58.55,284.50 69.85,284.50 81.15,284.50 92.45,284.50 103.75,284.50 115.05,284.50 126.35,284.50 137.65,284.50" fill="none" stroke="#333" stroke-width="1.2" stroke-dasharray="3.5,2" />
<circle cx="35.95" cy="279.54" r="1.95" fill="#fff" stroke="#999" stroke-width="0.7"/>
<polygon points="47.25,262.16 49.75,264.66 47.25,267.16 44.75,264.66" fill="#fff" stroke="#888" stroke-width="0.7"/>
<circle cx="58.55" cy="284.50" r="1.95" fill="#fff" stroke="#999" stroke-width="0.7"/>
<circle cx="69.85" cy="284.50" r="1.95" fill="#fff" stroke="#999" stroke-width="0.7"/>
<circle cx="81.15" cy="284.50" r="1.95" fill="#fff" stroke="#999" stroke-width="0.7"/>
<circle cx="92.45" cy="284.50" r="1.95" fill="#fff" stroke="#999" stroke-width="0.7"/>
<circle cx="103.75" cy="284.50" r="1.95" fill="#fff" stroke="#999" stroke-width="0.7"/>
<circle cx="115.05" cy="284.50" r="1.95" fill="#fff" stroke="#999" stroke-width="0.7"/>
<circle cx="126.35" cy="284.50" r="1.95" fill="#fff" stroke="#999" stroke-width="0.7"/>
<circle cx="137.65" cy="284.50" r="1.95" fill="#fff" stroke="#999" stroke-width="0.7"/>
<polyline points="35.95,274.58 47.25,215.06 58.55,234.90 69.85,254.74 81.15,259.70 92.45,269.62 103.75,269.62 115.05,259.70 126.35,264.66 137.65,269.62" fill="none" stroke="#111" stroke-width="0.9" />
<rect x="33.95" y="272.58" width="4.00" height="4.00" fill="#111" stroke="#111" stroke-width="0.8"/>
<rect x="45.25" y="213.06" width="4.00" height="4.00" fill="#111" stroke="#111" stroke-width="0.8"/>
<rect x="56.55" y="232.90" width="4.00" height="4.00" fill="#111" stroke="#111" stroke-width="0.8"/>
<rect x="67.85" y="252.74" width="4.00" height="4.00" fill="#111" stroke="#111" stroke-width="0.8"/>
<rect x="79.15" y="257.70" width="4.00" height="4.00" fill="#111" stroke="#111" stroke-width="0.8"/>
<rect x="90.45" y="267.62" width="4.00" height="4.00" fill="#111" stroke="#111" stroke-width="0.8"/>
<rect x="101.75" y="267.62" width="4.00" height="4.00" fill="#111" stroke="#111" stroke-width="0.8"/>
<rect x="113.05" y="257.70" width="4.00" height="4.00" fill="#111" stroke="#111" stroke-width="0.8"/>
<rect x="124.35" y="262.66" width="4.00" height="4.00" fill="#111" stroke="#111" stroke-width="0.8"/>
<rect x="135.65" y="267.62" width="4.00" height="4.00" fill="#111" stroke="#111" stroke-width="0.8"/>
<line x1="208.00" y1="186.50" x2="208.00" y2="284.80" stroke="#1a1a1a" stroke-width="1.35" />
<line x1="207.40" y1="284.30" x2="339.60" y2="284.30" stroke="#1a1a1a" stroke-width="1.3" />
<line x1="205.50" y1="284.30" x2="208.00" y2="284.30" stroke="#1a1a1a" stroke-width="1" />
<text x="202.60" y="286.80" font-size="7.0" text-anchor="end" fill="#1a1a1a" stroke="#1a1a1a" stroke-width="0.263" >0</text>
<line x1="205.50" y1="259.90" x2="208.00" y2="259.90" stroke="#1a1a1a" stroke-width="1" />
<text x="202.60" y="262.40" font-size="7.0" text-anchor="end" fill="#1a1a1a" stroke="#1a1a1a" stroke-width="0.263" >10</text>
<line x1="205.50" y1="235.50" x2="208.00" y2="235.50" stroke="#1a1a1a" stroke-width="1" />
<text x="202.60" y="238.00" font-size="7.0" text-anchor="end" fill="#1a1a1a" stroke="#1a1a1a" stroke-width="0.263" >20</text>
<line x1="205.50" y1="211.10" x2="208.00" y2="211.10" stroke="#1a1a1a" stroke-width="1" />
<text x="202.60" y="213.60" font-size="7.0" text-anchor="end" fill="#1a1a1a" stroke="#1a1a1a" stroke-width="0.263" >30</text>
<line x1="205.50" y1="186.70" x2="208.00" y2="186.70" stroke="#1a1a1a" stroke-width="1" />
<text x="202.60" y="189.20" font-size="7.0" text-anchor="end" fill="#1a1a1a" stroke="#1a1a1a" stroke-width="0.263" >40</text>
<line x1="208.00" y1="284.30" x2="208.00" y2="286.30" stroke="#1a1a1a" stroke-width="1" />
<line x1="273.80" y1="284.30" x2="273.80" y2="286.30" stroke="#1a1a1a" stroke-width="1" />
<line x1="339.60" y1="284.30" x2="339.60" y2="286.30" stroke="#1a1a1a" stroke-width="1" />
<text x="240.90" y="298.00" font-size="8.2" text-anchor="middle" fill="#1a1a1a" stroke="#1a1a1a" stroke-width="0.307" >MiGR1</text>
<text x="305.30" y="298.00" font-size="7.6" text-anchor="middle" fill="#1a1a1a" stroke="#1a1a1a" stroke-width="0.285" >BMI1</text>
<text x="0" y="0" font-size="8.2" text-anchor="middle" fill="#1a1a1a" stroke="#1a1a1a" stroke-width="0.307" transform="translate(187.00,233.20) rotate(-90)">colonies/10.000 cells</text>
<rect x="293.5" y="259.90" width="27" height="24.40" fill="#fff" stroke="#ddd" stroke-width="0.6"/>
<rect x="293.5" y="238.92" width="27" height="20.98" fill="#bdbdbd"/>
<rect x="293.5" y="211.10" width="27" height="27.82" fill="#6e6e6e"/>
<text x="306.60" y="226.40" font-size="7.8" text-anchor="middle" fill="#1a1a1a" stroke="#1a1a1a" stroke-width="0.292" >GEMM</text>
<text x="306.90" y="251.10" font-size="7.8" text-anchor="middle" fill="#1a1a1a" stroke="#1a1a1a" stroke-width="0.292" >M</text>
<text x="306.40" y="274.10" font-size="7.8" text-anchor="middle" fill="#1a1a1a" stroke="#1a1a1a" stroke-width="0.292" >GM</text>
<line x1="385.30" y1="185.80" x2="385.30" y2="282.80" stroke="#1a1a1a" stroke-width="1.3" />
<line x1="384.70" y1="282.30" x2="519.70" y2="282.30" stroke="#1a1a1a" stroke-width="1.3" />
<line x1="382.80" y1="282.30" x2="385.30" y2="282.30" stroke="#1a1a1a" stroke-width="1" />
<text x="381.50" y="284.90" font-size="7.0" text-anchor="end" fill="#1a1a1a" stroke="#1a1a1a" stroke-width="0.263" >0</text>
<line x1="382.80" y1="250.20" x2="385.30" y2="250.20" stroke="#1a1a1a" stroke-width="1" />
<text x="381.50" y="252.80" font-size="7.0" text-anchor="end" fill="#1a1a1a" stroke="#1a1a1a" stroke-width="0.263" >1000</text>
<line x1="382.80" y1="218.10" x2="385.30" y2="218.10" stroke="#1a1a1a" stroke-width="1" />
<text x="381.50" y="220.70" font-size="7.0" text-anchor="end" fill="#1a1a1a" stroke="#1a1a1a" stroke-width="0.263" >2000</text>
<line x1="382.80" y1="186.00" x2="385.30" y2="186.00" stroke="#1a1a1a" stroke-width="1" />
<text x="381.50" y="188.60" font-size="7.0" text-anchor="end" fill="#1a1a1a" stroke="#1a1a1a" stroke-width="0.263" >3000</text>
<line x1="385.30" y1="282.30" x2="385.30" y2="284.50" stroke="#1a1a1a" stroke-width="1" />
<line x1="397.52" y1="282.30" x2="397.52" y2="284.50" stroke="#1a1a1a" stroke-width="1" />
<line x1="409.74" y1="282.30" x2="409.74" y2="284.50" stroke="#1a1a1a" stroke-width="1" />
<line x1="421.96" y1="282.30" x2="421.96" y2="284.50" stroke="#1a1a1a" stroke-width="1" />
<line x1="434.18" y1="282.30" x2="434.18" y2="284.50" stroke="#1a1a1a" stroke-width="1" />
<line x1="446.40" y1="282.30" x2="446.40" y2="284.50" stroke="#1a1a1a" stroke-width="1" />
<line x1="458.62" y1="282.30" x2="458.62" y2="284.50" stroke="#1a1a1a" stroke-width="1" />
<line x1="470.84" y1="282.30" x2="470.84" y2="284.50" stroke="#1a1a1a" stroke-width="1" />
<line x1="483.06" y1="282.30" x2="483.06" y2="284.50" stroke="#1a1a1a" stroke-width="1" />
<line x1="495.28" y1="282.30" x2="495.28" y2="284.50" stroke="#1a1a1a" stroke-width="1" />
<line x1="507.50" y1="282.30" x2="507.50" y2="284.50" stroke="#1a1a1a" stroke-width="1" />
<line x1="519.72" y1="282.30" x2="519.72" y2="284.50" stroke="#1a1a1a" stroke-width="1" />
<text x="391.41" y="296.30" font-size="6.8" text-anchor="middle" fill="#1a1a1a" stroke="#1a1a1a" stroke-width="0.255" >0</text>
<text x="403.63" y="296.30" font-size="6.8" text-anchor="middle" fill="#1a1a1a" stroke="#1a1a1a" stroke-width="0.255" >1</text>
<text x="415.85" y="296.30" font-size="6.8" text-anchor="middle" fill="#1a1a1a" stroke="#1a1a1a" stroke-width="0.255" >3</text>
<text x="428.07" y="296.30" font-size="6.8" text-anchor="middle" fill="#1a1a1a" stroke="#1a1a1a" stroke-width="0.255" >5</text>
<text x="440.29" y="296.30" font-size="6.8" text-anchor="middle" fill="#1a1a1a" stroke="#1a1a1a" stroke-width="0.255" >7</text>
<text x="452.51" y="296.30" font-size="6.8" text-anchor="middle" fill="#1a1a1a" stroke="#1a1a1a" stroke-width="0.255" >9</text>
<text x="464.73" y="296.30" font-size="6.8" text-anchor="middle" fill="#1a1a1a" stroke="#1a1a1a" stroke-width="0.255" >11</text>
<text x="476.95" y="296.30" font-size="6.8" text-anchor="middle" fill="#1a1a1a" stroke="#1a1a1a" stroke-width="0.255" >13</text>
<text x="489.17" y="296.30" font-size="6.8" text-anchor="middle" fill="#1a1a1a" stroke="#1a1a1a" stroke-width="0.255" >15</text>
<text x="501.39" y="296.30" font-size="6.8" text-anchor="middle" fill="#1a1a1a" stroke="#1a1a1a" stroke-width="0.255" >18</text>
<text x="513.61" y="296.30" font-size="6.8" text-anchor="middle" fill="#1a1a1a" stroke="#1a1a1a" stroke-width="0.255" >20</text>
<text x="458.50" y="308.50" font-size="8.3" text-anchor="middle" fill="#1a1a1a" stroke="#1a1a1a" stroke-width="0.311" >weeks in culture</text>
<text x="0" y="0" font-size="6.8" text-anchor="middle" fill="#1a1a1a" stroke="#1a1a1a" stroke-width="0.255" transform="translate(359.20,227.10) rotate(-90)">cell counts (x1000)</text>
<text x="392.10" y="195.00" font-size="8.0" text-anchor="start" fill="#1a1a1a" stroke="#1a1a1a" stroke-width="0.300" textLength="21.6" lengthAdjust="spacingAndGlyphs">CD34</text>
<text x="413.40" y="192.00" font-size="4.6" text-anchor="start" fill="#1a1a1a" stroke="#1a1a1a" stroke-width="0.172" >+</text>
<text x="416.30" y="195.00" font-size="8.0" text-anchor="start" fill="#1a1a1a" stroke="#1a1a1a" stroke-width="0.300" textLength="9.8" lengthAdjust="spacingAndGlyphs">38</text>
<text x="426.00" y="192.20" font-size="4.6" text-anchor="start" fill="#1a1a1a" stroke="#1a1a1a" stroke-width="0.172" >-</text>
<polyline points="391.41,281.66 403.63,261.11 415.85,268.18 428.07,264.32 440.29,262.72 452.51,281.02 464.73,282.30 476.95,282.30 489.17,282.30 501.39,282.30 513.61,282.30" fill="none" stroke="#555" stroke-width="1.2" stroke-dasharray="1.2,2" />
<polygon points="403.63,259.01 405.73,261.11 403.63,263.21 401.53,261.11" fill="#fff" stroke="#999" stroke-width="0.6"/>
<polygon points="415.85,266.08 417.95,268.18 415.85,270.28 413.75,268.18" fill="#fff" stroke="#999" stroke-width="0.6"/>
<polygon points="428.07,262.22 430.17,264.32 428.07,266.42 425.97,264.32" fill="#fff" stroke="#999" stroke-width="0.6"/>
<polygon points="440.29,260.62 442.39,262.72 440.29,264.82 438.19,262.72" fill="#fff" stroke="#999" stroke-width="0.6"/>
<circle cx="452.51" cy="281.02" r="1.50" fill="#fff" stroke="#aaa" stroke-width="0.6"/>
<circle cx="464.73" cy="282.30" r="1.50" fill="#fff" stroke="#aaa" stroke-width="0.6"/>
<circle cx="476.95" cy="282.30" r="1.50" fill="#fff" stroke="#aaa" stroke-width="0.6"/>
<circle cx="489.17" cy="282.30" r="1.50" fill="#fff" stroke="#aaa" stroke-width="0.6"/>
<circle cx="501.39" cy="282.30" r="1.50" fill="#fff" stroke="#aaa" stroke-width="0.6"/>
<circle cx="513.61" cy="282.30" r="1.50" fill="#fff" stroke="#aaa" stroke-width="0.6"/>
<polyline points="391.41,281.66 403.63,275.08 415.85,206.87 428.07,199.55 440.29,202.15 452.51,202.44 464.73,201.05 476.95,203.98 489.17,201.66 501.39,219.10 513.61,216.21" fill="none" stroke="#111" stroke-width="0.9" />
<rect x="389.96" y="280.21" width="2.90" height="2.90" fill="#111" stroke="#111" stroke-width="0.6"/>
<rect x="402.18" y="273.63" width="2.90" height="2.90" fill="#111" stroke="#111" stroke-width="0.6"/>
<rect x="414.40" y="205.42" width="2.90" height="2.90" fill="#111" stroke="#111" stroke-width="0.6"/>
<rect x="426.62" y="198.10" width="2.90" height="2.90" fill="#111" stroke="#111" stroke-width="0.6"/>
<rect x="438.84" y="200.70" width="2.90" height="2.90" fill="#111" stroke="#111" stroke-width="0.6"/>
<rect x="451.06" y="200.99" width="2.90" height="2.90" fill="#111" stroke="#111" stroke-width="0.6"/>
<rect x="463.28" y="199.60" width="2.90" height="2.90" fill="#111" stroke="#111" stroke-width="0.6"/>
<rect x="475.50" y="202.53" width="2.90" height="2.90" fill="#111" stroke="#111" stroke-width="0.6"/>
<rect x="487.72" y="200.21" width="2.90" height="2.90" fill="#111" stroke="#111" stroke-width="0.6"/>
<rect x="499.94" y="217.65" width="2.90" height="2.90" fill="#111" stroke="#111" stroke-width="0.6"/>
<rect x="512.16" y="214.76" width="2.90" height="2.90" fill="#111" stroke="#111" stroke-width="0.6"/>
<line x1="28.50" y1="340.90" x2="28.50" y2="440.20" stroke="#1a1a1a" stroke-width="1.3" />
<line x1="27.90" y1="439.60" x2="168.00" y2="439.60" stroke="#1a1a1a" stroke-width="1.3" />
<line x1="26.00" y1="439.60" x2="28.50" y2="439.60" stroke="#1a1a1a" stroke-width="1" />
<text x="22.60" y="442.00" font-size="6.6" text-anchor="end" fill="#1a1a1a" stroke="#1a1a1a" stroke-width="0.247" >0</text>
<line x1="26.00" y1="420.00" x2="28.50" y2="420.00" stroke="#1a1a1a" stroke-width="1" />
<text x="22.60" y="422.40" font-size="6.6" text-anchor="end" fill="#1a1a1a" stroke="#1a1a1a" stroke-width="0.247" >20</text>
<line x1="26.00" y1="400.40" x2="28.50" y2="400.40" stroke="#1a1a1a" stroke-width="1" />
<text x="22.60" y="402.80" font-size="6.6" text-anchor="end" fill="#1a1a1a" stroke="#1a1a1a" stroke-width="0.247" >40</text>
<line x1="26.00" y1="380.80" x2="28.50" y2="380.80" stroke="#1a1a1a" stroke-width="1" />
<text x="22.60" y="383.20" font-size="6.6" text-anchor="end" fill="#1a1a1a" stroke="#1a1a1a" stroke-width="0.247" >60</text>
<line x1="26.00" y1="361.20" x2="28.50" y2="361.20" stroke="#1a1a1a" stroke-width="1" />
<text x="22.60" y="363.60" font-size="6.6" text-anchor="end" fill="#1a1a1a" stroke="#1a1a1a" stroke-width="0.247" >80</text>
<line x1="26.00" y1="341.60" x2="28.50" y2="341.60" stroke="#1a1a1a" stroke-width="1" />
<text x="22.60" y="344.00" font-size="6.6" text-anchor="end" fill="#1a1a1a" stroke="#1a1a1a" stroke-width="0.247" >100</text>
<line x1="28.30" y1="439.60" x2="28.30" y2="442.00" stroke="#1a1a1a" stroke-width="1" />
<line x1="56.20" y1="439.60" x2="56.20" y2="442.00" stroke="#1a1a1a" stroke-width="1" />
<line x1="84.10" y1="439.60" x2="84.10" y2="442.00" stroke="#1a1a1a" stroke-width="1" />
<line x1="112.00" y1="439.60" x2="112.00" y2="442.00" stroke="#1a1a1a" stroke-width="1" />
<line x1="139.90" y1="439.60" x2="139.90" y2="442.00" stroke="#1a1a1a" stroke-width="1" />
<line x1="167.80" y1="439.60" x2="167.80" y2="442.00" stroke="#1a1a1a" stroke-width="1" />
<text x="42.20" y="452.40" font-size="6.8" text-anchor="middle" fill="#1a1a1a" stroke="#1a1a1a" stroke-width="0.255" >1</text>
<text x="70.00" y="452.40" font-size="6.8" text-anchor="middle" fill="#1a1a1a" stroke="#1a1a1a" stroke-width="0.255" >2</text>
<text x="97.80" y="452.40" font-size="6.8" text-anchor="middle" fill="#1a1a1a" stroke="#1a1a1a" stroke-width="0.255" >3</text>
<text x="125.60" y="452.40" font-size="6.8" text-anchor="middle" fill="#1a1a1a" stroke="#1a1a1a" stroke-width="0.255" >4</text>
<text x="153.40" y="452.40" font-size="6.8" text-anchor="middle" fill="#1a1a1a" stroke="#1a1a1a" stroke-width="0.255" >5</text>
<text x="95.00" y="464.30" font-size="8.3" text-anchor="middle" fill="#1a1a1a" stroke="#1a1a1a" stroke-width="0.311" >weeks in culture</text>
<text x="0" y="0" font-size="8.5" text-anchor="middle" fill="#1a1a1a" stroke="#1a1a1a" stroke-width="0.319" transform="translate(6.50,387.30) rotate(-90)">% GFP<tspan font-size="5" dy="-3">+</tspan><tspan dy="3"> cells</tspan></text>
<text x="35.50" y="349.70" font-size="8.0" text-anchor="start" fill="#1a1a1a" stroke="#1a1a1a" stroke-width="0.300" >CD34</text>
<text x="56.50" y="346.80" font-size="4.5" text-anchor="start" fill="#1a1a1a" stroke="#1a1a1a" stroke-width="0.169" >+</text>
<line x1="42.20" y1="380.80" x2="42.20" y2="396.48" stroke="#bbb" stroke-width="0.7" />
<line x1="41.00" y1="380.80" x2="43.40" y2="380.80" stroke="#bbb" stroke-width="0.7" />
<line x1="41.00" y1="396.48" x2="43.40" y2="396.48" stroke="#bbb" stroke-width="0.7" />
<line x1="42.20" y1="397.17" x2="42.20" y2="399.13" stroke="#999" stroke-width="0.7" />
<line x1="70.00" y1="385.70" x2="70.00" y2="389.62" stroke="#bbb" stroke-width="0.7" />
<line x1="68.80" y1="385.70" x2="71.20" y2="385.70" stroke="#bbb" stroke-width="0.7" />
<line x1="68.80" y1="389.62" x2="71.20" y2="389.62" stroke="#bbb" stroke-width="0.7" />
<line x1="70.00" y1="380.51" x2="70.00" y2="384.43" stroke="#999" stroke-width="0.7" />
<line x1="97.80" y1="388.35" x2="97.80" y2="391.29" stroke="#bbb" stroke-width="0.7" />
<line x1="96.60" y1="388.35" x2="99.00" y2="388.35" stroke="#bbb" stroke-width="0.7" />
<line x1="96.60" y1="391.29" x2="99.00" y2="391.29" stroke="#bbb" stroke-width="0.7" />
<line x1="97.80" y1="354.34" x2="97.80" y2="361.20" stroke="#999" stroke-width="0.7" />
<line x1="125.60" y1="389.13" x2="125.60" y2="392.07" stroke="#bbb" stroke-width="0.7" />
<line x1="124.40" y1="389.13" x2="126.80" y2="389.13" stroke="#bbb" stroke-width="0.7" />
<line x1="124.40" y1="392.07" x2="126.80" y2="392.07" stroke="#bbb" stroke-width="0.7" />
<line x1="125.60" y1="352.77" x2="125.60" y2="356.69" stroke="#999" stroke-width="0.7" />
<line x1="153.40" y1="386.78" x2="153.40" y2="390.70" stroke="#bbb" stroke-width="0.7" />
<line x1="152.20" y1="386.78" x2="154.60" y2="386.78" stroke="#bbb" stroke-width="0.7" />
<line x1="152.20" y1="390.70" x2="154.60" y2="390.70" stroke="#bbb" stroke-width="0.7" />
<line x1="153.40" y1="353.26" x2="153.40" y2="356.20" stroke="#999" stroke-width="0.7" />
<polyline points="42.20,388.64 70.00,387.66 97.80,389.82 125.60,390.60 153.40,388.74" fill="none" stroke="#222" stroke-width="1.4" stroke-dasharray="2,3.3" />
<circle cx="42.20" cy="388.64" r="1.60" fill="#fff" stroke="#999" stroke-width="0.7"/>
<circle cx="70.00" cy="387.66" r="1.60" fill="#fff" stroke="#999" stroke-width="0.7"/>
<circle cx="97.80" cy="389.82" r="1.60" fill="#fff" stroke="#999" stroke-width="0.7"/>
<circle cx="125.60" cy="390.60" r="1.60" fill="#fff" stroke="#999" stroke-width="0.7"/>
<circle cx="153.40" cy="388.74" r="1.60" fill="#fff" stroke="#999" stroke-width="0.7"/>
<polyline points="42.20,398.15 70.00,382.47 97.80,357.77 125.60,354.73 153.40,354.73" fill="none" stroke="#111" stroke-width="1.2" />
<rect x="40.60" y="396.55" width="3.20" height="3.20" fill="#111" stroke="#111" stroke-width="0.6"/>
<rect x="68.40" y="380.87" width="3.20" height="3.20" fill="#111" stroke="#111" stroke-width="0.6"/>
<rect x="96.20" y="356.17" width="3.20" height="3.20" fill="#111" stroke="#111" stroke-width="0.6"/>
<rect x="124.00" y="353.13" width="3.20" height="3.20" fill="#111" stroke="#111" stroke-width="0.6"/>
<rect x="151.80" y="353.13" width="3.20" height="3.20" fill="#111" stroke="#111" stroke-width="0.6"/>
<line x1="208.70" y1="340.90" x2="208.70" y2="440.20" stroke="#1a1a1a" stroke-width="1.3" />
<line x1="208.10" y1="439.60" x2="335.70" y2="439.60" stroke="#1a1a1a" stroke-width="1.3" />
<line x1="206.20" y1="439.60" x2="208.70" y2="439.60" stroke="#1a1a1a" stroke-width="1" />
<text x="203.00" y="441.80" font-size="6.0" text-anchor="end" fill="#1a1a1a" stroke="#1a1a1a" stroke-width="0.225" >0</text>
<line x1="206.20" y1="420.00" x2="208.70" y2="420.00" stroke="#1a1a1a" stroke-width="1" />
<text x="203.00" y="422.20" font-size="6.0" text-anchor="end" fill="#1a1a1a" stroke="#1a1a1a" stroke-width="0.225" >20</text>
<line x1="206.20" y1="400.40" x2="208.70" y2="400.40" stroke="#1a1a1a" stroke-width="1" />
<text x="203.00" y="402.60" font-size="6.0" text-anchor="end" fill="#1a1a1a" stroke="#1a1a1a" stroke-width="0.225" >40</text>
<line x1="206.20" y1="380.80" x2="208.70" y2="380.80" stroke="#1a1a1a" stroke-width="1" />
<text x="203.00" y="383.00" font-size="6.0" text-anchor="end" fill="#1a1a1a" stroke="#1a1a1a" stroke-width="0.225" >60</text>
<line x1="206.20" y1="361.20" x2="208.70" y2="361.20" stroke="#1a1a1a" stroke-width="1" />
<text x="203.00" y="363.40" font-size="6.0" text-anchor="end" fill="#1a1a1a" stroke="#1a1a1a" stroke-width="0.225" >80</text>
<line x1="206.20" y1="341.60" x2="208.70" y2="341.60" stroke="#1a1a1a" stroke-width="1" />
<text x="203.00" y="343.80" font-size="6.0" text-anchor="end" fill="#1a1a1a" stroke="#1a1a1a" stroke-width="0.225" >100</text>
<line x1="208.70" y1="439.60" x2="208.70" y2="442.00" stroke="#1a1a1a" stroke-width="1" />
<line x1="234.10" y1="439.60" x2="234.10" y2="442.00" stroke="#1a1a1a" stroke-width="1" />
<line x1="259.50" y1="439.60" x2="259.50" y2="442.00" stroke="#1a1a1a" stroke-width="1" />
<line x1="284.90" y1="439.60" x2="284.90" y2="442.00" stroke="#1a1a1a" stroke-width="1" />
<line x1="310.30" y1="439.60" x2="310.30" y2="442.00" stroke="#1a1a1a" stroke-width="1" />
<line x1="335.70" y1="439.60" x2="335.70" y2="442.00" stroke="#1a1a1a" stroke-width="1" />
<text x="221.60" y="452.40" font-size="6.6" text-anchor="middle" fill="#1a1a1a" stroke="#1a1a1a" stroke-width="0.247" >1</text>
<text x="247.00" y="452.40" font-size="6.6" text-anchor="middle" fill="#1a1a1a" stroke="#1a1a1a" stroke-width="0.247" >2</text>
<text x="272.40" y="452.40" font-size="6.6" text-anchor="middle" fill="#1a1a1a" stroke="#1a1a1a" stroke-width="0.247" >3</text>
<text x="297.80" y="452.40" font-size="6.6" text-anchor="middle" fill="#1a1a1a" stroke="#1a1a1a" stroke-width="0.247" >4</text>
<text x="323.20" y="452.40" font-size="6.6" text-anchor="middle" fill="#1a1a1a" stroke="#1a1a1a" stroke-width="0.247" >5</text>
<text x="274.80" y="464.30" font-size="8.3" text-anchor="middle" fill="#1a1a1a" stroke="#1a1a1a" stroke-width="0.311" >weeks in culture</text>
<text x="0" y="0" font-size="8.5" text-anchor="middle" fill="#1a1a1a" stroke="#1a1a1a" stroke-width="0.319" transform="translate(185.60,388.10) rotate(-90)">% GFP<tspan font-size="5" dy="-3">+</tspan><tspan dy="3"> cells</tspan></text>
<text x="215.60" y="347.90" font-size="8.0" text-anchor="start" fill="#1a1a1a" stroke="#1a1a1a" stroke-width="0.300" >CD34</text>
<text x="236.20" y="344.60" font-size="4.5" text-anchor="start" fill="#1a1a1a" stroke="#1a1a1a" stroke-width="0.169" >+</text>
<text x="238.60" y="347.90" font-size="8.0" text-anchor="start" fill="#1a1a1a" stroke="#1a1a1a" stroke-width="0.300" >38</text>
<text x="248.00" y="345.00" font-size="4.5" text-anchor="start" fill="#1a1a1a" stroke="#1a1a1a" stroke-width="0.169" >-</text>
<polyline points="221.60,388.64 247.00,390.60 272.40,386.29 297.80,390.60 323.20,390.60" fill="none" stroke="#666" stroke-width="0.9" stroke-dasharray="1.5,1.5" />
<polygon points="221.60,386.94 223.30,388.64 221.60,390.34 219.90,388.64" fill="#fff" stroke="#999" stroke-width="0.6"/>
<polygon points="247.00,388.90 248.70,390.60 247.00,392.30 245.30,390.60" fill="#fff" stroke="#999" stroke-width="0.6"/>
<polygon points="272.40,384.59 274.10,386.29 272.40,387.99 270.70,386.29" fill="#fff" stroke="#999" stroke-width="0.6"/>
<polygon points="297.80,388.90 299.50,390.60 297.80,392.30 296.10,390.60" fill="#fff" stroke="#999" stroke-width="0.6"/>
<polygon points="323.20,388.90 324.90,390.60 323.20,392.30 321.50,390.60" fill="#fff" stroke="#999" stroke-width="0.6"/>
<polyline points="221.60,394.13 247.00,378.45 272.40,373.35 297.80,370.41 323.20,362.47" fill="none" stroke="#111" stroke-width="1.0" />
<rect x="220.10" y="392.63" width="3.00" height="3.00" fill="#111" stroke="#111" stroke-width="0.6"/>
<rect x="245.50" y="376.95" width="3.00" height="3.00" fill="#111" stroke="#111" stroke-width="0.6"/>
<rect x="270.90" y="371.85" width="3.00" height="3.00" fill="#111" stroke="#111" stroke-width="0.6"/>
<rect x="296.30" y="368.91" width="3.00" height="3.00" fill="#111" stroke="#111" stroke-width="0.6"/>
<rect x="321.70" y="360.97" width="3.00" height="3.00" fill="#111" stroke="#111" stroke-width="0.6"/>
<line x1="381.50" y1="324.00" x2="381.50" y2="391.00" stroke="#333" stroke-width="0.9" />
<line x1="381.10" y1="390.50" x2="466.30" y2="390.50" stroke="#222" stroke-width="1.0" />
<line x1="379.70" y1="390.50" x2="381.50" y2="390.50" stroke="#444" stroke-width="0.7" />
<text x="377.90" y="392.20" font-size="4.6" text-anchor="end" fill="#222" stroke="#222" stroke-width="0.172" >0</text>
<line x1="379.70" y1="373.93" x2="381.50" y2="373.93" stroke="#444" stroke-width="0.7" />
<text x="377.90" y="375.62" font-size="4.6" text-anchor="end" fill="#222" stroke="#222" stroke-width="0.172" >10</text>
<line x1="379.70" y1="357.35" x2="381.50" y2="357.35" stroke="#444" stroke-width="0.7" />
<text x="377.90" y="359.05" font-size="4.6" text-anchor="end" fill="#222" stroke="#222" stroke-width="0.172" >20</text>
<line x1="379.70" y1="340.77" x2="381.50" y2="340.77" stroke="#444" stroke-width="0.7" />
<text x="377.90" y="342.47" font-size="4.6" text-anchor="end" fill="#222" stroke="#222" stroke-width="0.172" >30</text>
<line x1="379.70" y1="324.20" x2="381.50" y2="324.20" stroke="#444" stroke-width="0.7" />
<text x="377.90" y="325.90" font-size="4.6" text-anchor="end" fill="#222" stroke="#222" stroke-width="0.172" >40</text>
<line x1="381.50" y1="390.50" x2="381.50" y2="392.00" stroke="#444" stroke-width="0.7" />
<line x1="423.90" y1="390.50" x2="423.90" y2="392.00" stroke="#444" stroke-width="0.7" />
<line x1="466.30" y1="390.50" x2="466.30" y2="392.00" stroke="#444" stroke-width="0.7" />
<text x="402.30" y="397.80" font-size="4.4" text-anchor="middle" fill="#222" stroke="#222" stroke-width="0.165" >MiGR1</text>
<text x="444.00" y="397.80" font-size="4.4" text-anchor="middle" fill="#222" stroke="#222" stroke-width="0.165" >BMI1</text>
<text x="0" y="0" font-size="5.7" text-anchor="middle" fill="#2a2a2a" stroke="#2a2a2a" stroke-width="0.214" transform="translate(365.90,351.70) rotate(-90)">colonies/10.000 cells</text>
<rect x="394.20" y="386.52" width="16.20" height="3.98" fill="#fff" stroke="#ccc" stroke-width="0.4"/>
<rect x="394.20" y="362.49" width="16.20" height="24.03" fill="#bfbfbf" stroke="#ccc" stroke-width="0.4"/>
<rect x="394.20" y="360.67" width="16.20" height="1.82" fill="#555" stroke="#ccc" stroke-width="0.4"/>
<rect x="436.50" y="375.25" width="17.10" height="15.25" fill="#fff" stroke="#ccc" stroke-width="0.4"/>
<rect x="436.50" y="336.96" width="17.10" height="38.29" fill="#bfbfbf" stroke="#ccc" stroke-width="0.4"/>
<rect x="436.50" y="333.48" width="17.10" height="3.48" fill="#555" stroke="#ccc" stroke-width="0.4"/>
<text x="402.40" y="361.40" font-size="4.9" text-anchor="middle" fill="#222" stroke="#222" stroke-width="0.184" >GEMM</text>
<text x="401.60" y="377.40" font-size="4.6" text-anchor="middle" fill="#222" stroke="#222" stroke-width="0.172" >M</text>
<text x="401.80" y="390.20" font-size="4.6" text-anchor="middle" fill="#222" stroke="#222" stroke-width="0.172" >GM</text>
<text x="445.00" y="335.90" font-size="4.9" text-anchor="middle" fill="#222" stroke="#222" stroke-width="0.184" >GEMM</text>
<text x="444.70" y="360.20" font-size="4.6" text-anchor="middle" fill="#222" stroke="#222" stroke-width="0.172" >M</text>
<text x="444.70" y="384.10" font-size="4.6" text-anchor="middle" fill="#222" stroke="#222" stroke-width="0.172" >GM</text>
<line x1="382.60" y1="404.50" x2="382.60" y2="472.00" stroke="#333" stroke-width="0.9" />
<line x1="382.20" y1="471.60" x2="467.80" y2="471.60" stroke="#222" stroke-width="1.0" />
<line x1="380.80" y1="471.60" x2="382.60" y2="471.60" stroke="#444" stroke-width="0.7" />
<text x="379.00" y="473.30" font-size="4.6" text-anchor="end" fill="#222" stroke="#222" stroke-width="0.172" >0</text>
<line x1="380.80" y1="449.34" x2="382.60" y2="449.34" stroke="#444" stroke-width="0.7" />
<text x="379.00" y="451.04" font-size="4.6" text-anchor="end" fill="#222" stroke="#222" stroke-width="0.172" >5</text>
<line x1="380.80" y1="427.07" x2="382.60" y2="427.07" stroke="#444" stroke-width="0.7" />
<text x="379.00" y="428.77" font-size="4.6" text-anchor="end" fill="#222" stroke="#222" stroke-width="0.172" >10</text>
<line x1="380.80" y1="404.81" x2="382.60" y2="404.81" stroke="#444" stroke-width="0.7" />
<text x="379.00" y="406.50" font-size="4.6" text-anchor="end" fill="#222" stroke="#222" stroke-width="0.172" >15</text>
<line x1="382.60" y1="471.60" x2="382.60" y2="473.00" stroke="#444" stroke-width="0.7" />
<line x1="425.20" y1="471.60" x2="425.20" y2="473.00" stroke="#444" stroke-width="0.7" />
<line x1="467.80" y1="471.60" x2="467.80" y2="473.00" stroke="#444" stroke-width="0.7" />
<text x="402.00" y="478.80" font-size="4.4" text-anchor="middle" fill="#222" stroke="#222" stroke-width="0.165" >MiGR1</text>
<text x="443.50" y="478.80" font-size="4.4" text-anchor="middle" fill="#222" stroke="#222" stroke-width="0.165" >BMI1</text>
<text x="0" y="0" font-size="5.8" text-anchor="middle" fill="#2a2a2a" stroke="#2a2a2a" stroke-width="0.217" transform="translate(366.20,436.80) rotate(-90)">2nd colonies/10.000 cells</text>
<rect x="437.80" y="458.24" width="17.00" height="13.36" fill="#fff" stroke="#ccc" stroke-width="0.4"/>
<rect x="437.80" y="427.07" width="17.00" height="31.17" fill="#bdbdbd" stroke="#ccc" stroke-width="0.4"/>
<text x="446.30" y="444.26" font-size="4.6" text-anchor="middle" fill="#222" stroke="#222" stroke-width="0.172" >M</text>
<text x="446.30" y="466.97" font-size="4.6" text-anchor="middle" fill="#222" stroke="#222" stroke-width="0.172" >GM</text>
<path d="M473,397.8 C484,402 485,416 474,422.5" fill="none" stroke="#333" stroke-width="0.9"/>
<polygon points="472.2,423.6 475.6,419.6 476.4,423.0" fill="#333"/>
<text x="486.30" y="409.80" font-size="6.2" text-anchor="start" fill="#222" stroke="#222" stroke-width="0.232" >replate</text>
<g>
<rect x="354.5" y="33" width="134" height="102.5" fill="#cacaca"/>
<ellipse cx="368" cy="56" rx="12" ry="10" fill="#d5d5d5" filter="url(#b2)"/>
<ellipse cx="392" cy="56" rx="9" ry="10" fill="#d5d5d5" filter="url(#b2)"/>
<ellipse cx="382" cy="102" rx="14" ry="13" fill="#d5d5d5" filter="url(#b2)"/>
<ellipse cx="460" cy="72" rx="16" ry="14" fill="#d5d5d5" filter="url(#b2)"/>
<ellipse cx="452" cy="58" rx="8" ry="7" fill="#d5d5d5" filter="url(#b2)"/>
<ellipse cx="432" cy="40" rx="10" ry="6" fill="#d5d5d5" filter="url(#b2)"/>
<ellipse cx="410" cy="116" rx="9" ry="8" fill="#d5d5d5" filter="url(#b2)"/>
<ellipse cx="452" cy="108" rx="10" ry="10" fill="#d5d5d5" filter="url(#b2)"/>
<ellipse cx="365" cy="112" rx="10" ry="10" fill="#d5d5d5" filter="url(#b2)"/>
<ellipse cx="390" cy="40" rx="6" ry="6" fill="#d5d5d5" filter="url(#b2)"/>
<g filter="url(#b4)">
<ellipse cx="390.3" cy="45" rx="6.65" ry="7.82" fill="#d4d4d4"/>
<ellipse cx="365.4" cy="52.9" rx="4.20" ry="4.08" fill="#d4d4d4"/>
<ellipse cx="381.9" cy="52.2" rx="3.50" ry="5.10" fill="#d4d4d4"/>
<ellipse cx="391" cy="56.2" rx="3.50" ry="3.40" fill="#d4d4d4"/>
<ellipse cx="397.5" cy="57" rx="4.02" ry="4.76" fill="#d4d4d4"/>
<ellipse cx="383" cy="62.7" rx="4.20" ry="4.08" fill="#d4d4d4"/>
<ellipse cx="394.8" cy="61.3" rx="4.38" ry="4.25" fill="#d4d4d4"/>
<ellipse cx="362" cy="65" rx="4.20" ry="3.06" fill="#d4d4d4"/>
<ellipse cx="374.2" cy="67.7" rx="5.95" ry="5.10" fill="#d4d4d4"/>
<ellipse cx="363.4" cy="72.4" rx="4.20" ry="3.74" fill="#d4d4d4"/>
<ellipse cx="425.4" cy="37.4" rx="4.90" ry="5.44" fill="#d4d4d4"/>
<ellipse cx="433.5" cy="37.4" rx="5.95" ry="5.78" fill="#d4d4d4"/>
<ellipse cx="441.5" cy="34.7" rx="3.50" ry="2.55" fill="#d4d4d4"/>
<ellipse cx="454.3" cy="56.5" rx="7.70" ry="7.82" fill="#d4d4d4"/>
<ellipse cx="463.7" cy="54.2" rx="5.25" ry="6.80" fill="#d4d4d4"/>
<ellipse cx="447" cy="68.3" rx="5.60" ry="5.44" fill="#d4d4d4"/>
<ellipse cx="458" cy="70.4" rx="4.20" ry="4.08" fill="#d4d4d4"/>
<ellipse cx="470.5" cy="66.7" rx="5.95" ry="5.10" fill="#d4d4d4"/>
<ellipse cx="464.4" cy="74.4" rx="5.95" ry="5.10" fill="#d4d4d4"/>
<ellipse cx="476.5" cy="72.4" rx="5.25" ry="4.42" fill="#d4d4d4"/>
<ellipse cx="479.2" cy="78.4" rx="5.95" ry="4.76" fill="#d4d4d4"/>
<ellipse cx="471.8" cy="81.8" rx="5.25" ry="4.76" fill="#d4d4d4"/>
<ellipse cx="367.5" cy="95.5" rx="3.32" ry="3.74" fill="#d4d4d4"/>
<ellipse cx="390.3" cy="93.4" rx="4.38" ry="3.91" fill="#d4d4d4"/>
<ellipse cx="386.3" cy="96.1" rx="4.38" ry="4.25" fill="#d4d4d4"/>
<ellipse cx="378.9" cy="99.5" rx="5.25" ry="5.10" fill="#d4d4d4"/>
<ellipse cx="384.3" cy="102.2" rx="4.38" ry="4.25" fill="#d4d4d4"/>
<ellipse cx="390.3" cy="103.5" rx="5.77" ry="5.61" fill="#d4d4d4"/>
<ellipse cx="389.7" cy="113" rx="3.50" ry="3.74" fill="#d4d4d4"/>
<ellipse cx="362" cy="118.3" rx="4.90" ry="4.42" fill="#d4d4d4"/>
<ellipse cx="376.9" cy="121" rx="3.85" ry="4.42" fill="#d4d4d4"/>
<ellipse cx="411.9" cy="110.3" rx="4.55" ry="3.74" fill="#d4d4d4"/>
<ellipse cx="418.6" cy="110.3" rx="4.55" ry="3.74" fill="#d4d4d4"/>
<ellipse cx="409.9" cy="121" rx="7.00" ry="6.12" fill="#d4d4d4"/>
<ellipse cx="448.3" cy="101.5" rx="5.95" ry="5.44" fill="#d4d4d4"/>
<ellipse cx="458.4" cy="104.9" rx="5.95" ry="5.78" fill="#d4d4d4"/>
<ellipse cx="446.2" cy="115" rx="7.70" ry="7.14" fill="#d4d4d4"/>
<ellipse cx="473.8" cy="83.3" rx="4.38" ry="4.25" fill="#d4d4d4"/>
</g>
<ellipse cx="364.8" cy="41.2" rx="1.23" ry="1.23" fill="#3a3a3a" filter="url(#b1)"/>
<ellipse cx="390.3" cy="45" rx="4.26" ry="5.15" fill="#6a6a6a" filter="url(#b1)"/>
<ellipse cx="365.4" cy="52.9" rx="2.69" ry="2.69" fill="#555" filter="url(#b1)"/>
<ellipse cx="381.9" cy="52.2" rx="2.24" ry="3.36" fill="#555" filter="url(#b1)"/>
<ellipse cx="391" cy="56.2" rx="2.24" ry="2.24" fill="#555" filter="url(#b1)"/>
<ellipse cx="397.5" cy="57" rx="2.58" ry="3.14" fill="#666" filter="url(#b1)"/>
<ellipse cx="383" cy="62.7" rx="2.69" ry="2.69" fill="#5a5a5a" filter="url(#b1)"/>
<ellipse cx="394.8" cy="61.3" rx="2.80" ry="2.80" fill="#5a5a5a" filter="url(#b1)"/>
<ellipse cx="362" cy="65" rx="2.69" ry="2.02" fill="#333" filter="url(#b1)"/>
<ellipse cx="374.2" cy="67.7" rx="3.81" ry="3.36" fill="#3a3a3a" filter="url(#b1)"/>
<ellipse cx="363.4" cy="72.4" rx="2.69" ry="2.46" fill="#2f2f2f" filter="url(#b1)"/>
<ellipse cx="356" cy="55.6" rx="1.79" ry="2.69" fill="#444" filter="url(#b1)"/>
<ellipse cx="425.4" cy="37.4" rx="3.14" ry="3.58" fill="#666" filter="url(#b1)"/>
<ellipse cx="433.5" cy="37.4" rx="3.81" ry="3.81" fill="#6a6a6a" filter="url(#b1)"/>
<ellipse cx="441.5" cy="34.7" rx="2.24" ry="1.68" fill="#777" filter="url(#b1)"/>
<ellipse cx="454.3" cy="56.5" rx="4.93" ry="5.15" fill="#5e5e5e" filter="url(#b1)"/>
<ellipse cx="463.7" cy="54.2" rx="3.36" ry="4.48" fill="#6a6a6a" filter="url(#b1)"/>
<ellipse cx="447" cy="68.3" rx="3.58" ry="3.58" fill="#6e6e6e" filter="url(#b1)"/>
<ellipse cx="458" cy="70.4" rx="2.69" ry="2.69" fill="#555" filter="url(#b1)"/>
<ellipse cx="470.5" cy="66.7" rx="3.81" ry="3.36" fill="#5a5a5a" filter="url(#b1)"/>
<ellipse cx="464.4" cy="74.4" rx="3.81" ry="3.36" fill="#585858" filter="url(#b1)"/>
<ellipse cx="476.5" cy="72.4" rx="3.36" ry="2.91" fill="#5e5e5e" filter="url(#b1)"/>
<ellipse cx="479.2" cy="78.4" rx="3.81" ry="3.14" fill="#646464" filter="url(#b1)"/>
<ellipse cx="471.8" cy="81.8" rx="3.36" ry="3.14" fill="#666" filter="url(#b1)"/>
<ellipse cx="367.5" cy="95.5" rx="2.13" ry="2.46" fill="#555" filter="url(#b1)"/>
<ellipse cx="390.3" cy="93.4" rx="2.80" ry="2.58" fill="#5a5a5a" filter="url(#b1)"/>
<ellipse cx="386.3" cy="96.1" rx="2.80" ry="2.80" fill="#606060" filter="url(#b1)"/>
<ellipse cx="378.9" cy="99.5" rx="3.36" ry="3.36" fill="#555" filter="url(#b1)"/>
<ellipse cx="384.3" cy="102.2" rx="2.80" ry="2.80" fill="#5e5e5e" filter="url(#b1)"/>
<ellipse cx="390.3" cy="103.5" rx="3.70" ry="3.70" fill="#555" filter="url(#b1)"/>
<ellipse cx="380.2" cy="109.6" rx="1.68" ry="1.68" fill="#333" filter="url(#b1)"/>
<ellipse cx="389.7" cy="113" rx="2.24" ry="2.46" fill="#4a4a4a" filter="url(#b1)"/>
<ellipse cx="362" cy="118.3" rx="3.14" ry="2.91" fill="#555" filter="url(#b1)"/>
<ellipse cx="376.9" cy="121" rx="2.46" ry="2.91" fill="#4a4a4a" filter="url(#b1)"/>
<ellipse cx="411.9" cy="110.3" rx="2.91" ry="2.46" fill="#5a5a5a" filter="url(#b1)"/>
<ellipse cx="418.6" cy="110.3" rx="2.91" ry="2.46" fill="#5a5a5a" filter="url(#b1)"/>
<ellipse cx="409.9" cy="121" rx="4.48" ry="4.03" fill="#6a6a6a" filter="url(#b1)"/>
<ellipse cx="448.3" cy="101.5" rx="3.81" ry="3.58" fill="#666" filter="url(#b1)"/>
<ellipse cx="458.4" cy="104.9" rx="3.81" ry="3.81" fill="#6e6e6e" filter="url(#b1)"/>
<ellipse cx="428" cy="106.2" rx="1.12" ry="1.12" fill="#777" filter="url(#b1)"/>
<ellipse cx="446.2" cy="115" rx="4.93" ry="4.70" fill="#6a6a6a" filter="url(#b1)"/>
<ellipse cx="473.8" cy="83.3" rx="2.80" ry="2.80" fill="#666" filter="url(#b1)"/>
<ellipse cx="420.7" cy="110.3" rx="1.34" ry="1.68" fill="#666" filter="url(#b1)"/>
<ellipse cx="366.8" cy="79.8" rx="0.90" ry="0.90" fill="#888" filter="url(#b1)"/>
<rect x="354.5" y="33.5" width="134" height="102" fill="none" stroke="#111" stroke-width="1.3"/>
<polyline points="378.4,42.6 383.4,45.0 378.4,47.4" fill="none" stroke="#111" stroke-width="1.15"/>
<polyline points="442.4,53.0 447.4,55.5 442.4,58.0" fill="none" stroke="#111" stroke-width="1.15"/>
<polyline points="434.3,113.2 439.8,115.7 434.3,118.2" fill="none" stroke="#111" stroke-width="1.15"/>
</g>
<text x="486.80" y="131.00" font-size="8.25" text-anchor="end" fill="#111" stroke="#111" stroke-width="0.309" >wk 16 liquid culture</text>
<clipPath id="clip7"><rect x="212.8" y="186.8" width="63.8" height="45.6"/></clipPath>
<g clip-path="url(#clip7)">
<rect x="212.8" y="186.8" width="63.8" height="45.6" fill="url(#ig)"/>
<line x1="210.5" y1="209.9" x2="216.1" y2="214.0" stroke="rgb(147,147,147)" stroke-width="0.61"/>
<line x1="264.4" y1="192.4" x2="270.1" y2="199.0" stroke="rgb(186,186,186)" stroke-width="0.60"/>
<line x1="274.9" y1="188.9" x2="279.4" y2="192.3" stroke="rgb(149,149,149)" stroke-width="0.55"/>
<line x1="263.7" y1="195.0" x2="270.3" y2="200.7" stroke="rgb(183,183,183)" stroke-width="0.43"/>
<line x1="255.5" y1="197.9" x2="260.6" y2="203.7" stroke="rgb(198,198,198)" stroke-width="0.54"/>
<line x1="275.2" y1="192.2" x2="283.0" y2="198.1" stroke="rgb(179,179,179)" stroke-width="0.42"/>
<line x1="253.3" y1="221.7" x2="261.7" y2="228.6" stroke="rgb(195,195,195)" stroke-width="0.70"/>
<line x1="272.7" y1="208.4" x2="275.2" y2="210.9" stroke="rgb(191,191,191)" stroke-width="0.90"/>
<line x1="264.1" y1="199.8" x2="271.5" y2="205.0" stroke="rgb(176,176,176)" stroke-width="0.48"/>
<line x1="267.6" y1="190.5" x2="272.9" y2="196.4" stroke="rgb(205,205,205)" stroke-width="0.83"/>
<line x1="226.0" y1="205.7" x2="233.1" y2="214.1" stroke="rgb(152,152,152)" stroke-width="0.49"/>
<line x1="247.8" y1="198.8" x2="252.9" y2="203.2" stroke="rgb(185,185,185)" stroke-width="0.88"/>
<line x1="254.9" y1="210.3" x2="262.2" y2="215.6" stroke="rgb(211,211,211)" stroke-width="0.79"/>
<line x1="267.8" y1="223.2" x2="273.1" y2="227.1" stroke="rgb(190,190,190)" stroke-width="0.43"/>
<line x1="211.1" y1="196.3" x2="216.1" y2="199.9" stroke="rgb(140,140,140)" stroke-width="0.48"/>
<line x1="213.5" y1="203.4" x2="221.3" y2="211.0" stroke="rgb(151,151,151)" stroke-width="0.53"/>
<line x1="230.8" y1="203.4" x2="237.7" y2="211.5" stroke="rgb(177,177,177)" stroke-width="0.64"/>
<line x1="225.0" y1="224.6" x2="227.1" y2="227.0" stroke="rgb(182,182,182)" stroke-width="0.47"/>
<line x1="244.5" y1="188.0" x2="252.4" y2="196.8" stroke="rgb(195,195,195)" stroke-width="0.53"/>
<line x1="243.8" y1="222.3" x2="247.2" y2="226.0" stroke="rgb(218,218,218)" stroke-width="0.83"/>
<line x1="263.0" y1="224.1" x2="266.7" y2="227.5" stroke="rgb(168,168,168)" stroke-width="0.41"/>
<line x1="208.4" y1="199.5" x2="214.4" y2="206.5" stroke="rgb(175,175,175)" stroke-width="0.87"/>
<line x1="275.8" y1="230.3" x2="279.7" y2="233.4" stroke="rgb(155,155,155)" stroke-width="0.50"/>
<line x1="261.3" y1="221.0" x2="264.5" y2="224.4" stroke="rgb(166,166,166)" stroke-width="0.80"/>
<line x1="274.6" y1="204.9" x2="282.6" y2="213.1" stroke="rgb(153,153,153)" stroke-width="0.46"/>
<line x1="252.5" y1="202.8" x2="256.0" y2="205.2" stroke="rgb(217,217,217)" stroke-width="0.72"/>
<line x1="243.4" y1="229.4" x2="250.7" y2="237.4" stroke="rgb(156,156,156)" stroke-width="0.53"/>
<line x1="224.6" y1="205.9" x2="233.2" y2="213.1" stroke="rgb(176,176,176)" stroke-width="0.69"/>
<line x1="269.9" y1="206.0" x2="275.4" y2="211.1" stroke="rgb(181,181,181)" stroke-width="0.41"/>
<line x1="237.3" y1="195.1" x2="245.4" y2="201.4" stroke="rgb(177,177,177)" stroke-width="0.76"/>
<line x1="245.5" y1="201.7" x2="251.0" y2="207.5" stroke="rgb(148,148,148)" stroke-width="0.68"/>
<line x1="270.5" y1="207.0" x2="276.0" y2="212.1" stroke="rgb(195,195,195)" stroke-width="0.63"/>
<line x1="265.4" y1="193.1" x2="271.0" y2="197.2" stroke="rgb(159,159,159)" stroke-width="0.44"/>
<line x1="221.8" y1="230.2" x2="226.6" y2="235.9" stroke="rgb(206,206,206)" stroke-width="0.48"/>
<line x1="236.7" y1="210.3" x2="240.4" y2="213.4" stroke="rgb(197,197,197)" stroke-width="0.41"/>
<line x1="245.3" y1="206.9" x2="249.6" y2="211.1" stroke="rgb(180,180,180)" stroke-width="0.43"/>
<line x1="275.6" y1="222.7" x2="278.6" y2="225.2" stroke="rgb(143,143,143)" stroke-width="0.79"/>
<line x1="225.4" y1="192.7" x2="233.0" y2="200.9" stroke="rgb(160,160,160)" stroke-width="0.47"/>
<line x1="270.9" y1="212.8" x2="274.0" y2="215.0" stroke="rgb(195,195,195)" stroke-width="0.61"/>
<line x1="223.2" y1="191.8" x2="225.9" y2="193.9" stroke="rgb(164,164,164)" stroke-width="0.55"/>
<line x1="259.7" y1="200.0" x2="263.2" y2="203.0" stroke="rgb(141,141,141)" stroke-width="0.53"/>
<line x1="241.2" y1="224.9" x2="246.5" y2="230.2" stroke="rgb(218,218,218)" stroke-width="0.57"/>
<line x1="264.8" y1="219.0" x2="269.9" y2="223.3" stroke="rgb(144,144,144)" stroke-width="0.46"/>
<line x1="211.4" y1="220.6" x2="215.0" y2="223.2" stroke="rgb(207,207,207)" stroke-width="0.84"/>
<line x1="253.5" y1="199.7" x2="257.7" y2="203.4" stroke="rgb(152,152,152)" stroke-width="0.62"/>
<line x1="228.1" y1="203.1" x2="232.9" y2="207.4" stroke="rgb(180,180,180)" stroke-width="0.50"/>
<line x1="241.8" y1="187.0" x2="244.7" y2="189.5" stroke="rgb(143,143,143)" stroke-width="0.41"/>
<line x1="256.7" y1="226.9" x2="260.5" y2="231.4" stroke="rgb(151,151,151)" stroke-width="0.76"/>
<line x1="269.0" y1="215.4" x2="277.2" y2="221.6" stroke="rgb(181,181,181)" stroke-width="0.65"/>
<line x1="265.0" y1="223.5" x2="270.5" y2="229.7" stroke="rgb(194,194,194)" stroke-width="0.75"/>
<line x1="222.6" y1="188.2" x2="227.6" y2="191.9" stroke="rgb(206,206,206)" stroke-width="0.68"/>
<line x1="250.5" y1="215.4" x2="256.5" y2="219.6" stroke="rgb(203,203,203)" stroke-width="0.77"/>
<line x1="211.1" y1="220.4" x2="213.9" y2="222.7" stroke="rgb(198,198,198)" stroke-width="0.50"/>
<line x1="258.3" y1="231.3" x2="263.1" y2="235.6" stroke="rgb(194,194,194)" stroke-width="0.78"/>
<line x1="249.7" y1="216.1" x2="253.1" y2="218.8" stroke="rgb(199,199,199)" stroke-width="0.55"/>
<line x1="246.3" y1="187.4" x2="250.1" y2="191.2" stroke="rgb(195,195,195)" stroke-width="0.74"/>
<line x1="226.8" y1="210.4" x2="232.6" y2="214.7" stroke="rgb(211,211,211)" stroke-width="0.50"/>
<line x1="275.1" y1="229.5" x2="279.9" y2="234.7" stroke="rgb(217,217,217)" stroke-width="0.62"/>
<line x1="221.2" y1="213.3" x2="226.2" y2="219.2" stroke="rgb(150,150,150)" stroke-width="0.81"/>
<line x1="238.1" y1="200.6" x2="242.7" y2="204.5" stroke="rgb(207,207,207)" stroke-width="0.40"/>
<line x1="259.1" y1="225.1" x2="267.0" y2="233.2" stroke="rgb(212,212,212)" stroke-width="0.54"/>
<line x1="247.8" y1="203.2" x2="252.2" y2="206.4" stroke="rgb(148,148,148)" stroke-width="0.82"/>
<line x1="226.5" y1="229.5" x2="230.4" y2="233.1" stroke="rgb(155,155,155)" stroke-width="0.59"/>
<line x1="273.5" y1="227.1" x2="279.3" y2="233.6" stroke="rgb(215,215,215)" stroke-width="0.67"/>
<line x1="256.9" y1="189.1" x2="261.8" y2="194.2" stroke="rgb(191,191,191)" stroke-width="0.54"/>
<line x1="209.9" y1="229.1" x2="215.4" y2="233.7" stroke="rgb(163,163,163)" stroke-width="0.77"/>
<line x1="274.9" y1="198.7" x2="279.1" y2="202.6" stroke="rgb(171,171,171)" stroke-width="0.48"/>
<line x1="276.4" y1="207.3" x2="280.2" y2="210.1" stroke="rgb(167,167,167)" stroke-width="0.45"/>
<line x1="268.7" y1="221.0" x2="273.6" y2="225.6" stroke="rgb(170,170,170)" stroke-width="0.57"/>
<line x1="267.0" y1="196.6" x2="270.9" y2="200.1" stroke="rgb(175,175,175)" stroke-width="0.88"/>
<line x1="266.0" y1="226.6" x2="268.3" y2="229.0" stroke="rgb(211,211,211)" stroke-width="0.64"/>
<line x1="247.6" y1="186.8" x2="255.3" y2="195.2" stroke="rgb(208,208,208)" stroke-width="0.89"/>
<line x1="223.9" y1="191.8" x2="229.3" y2="197.2" stroke="rgb(215,215,215)" stroke-width="0.76"/>
<line x1="251.9" y1="221.7" x2="258.3" y2="226.3" stroke="rgb(202,202,202)" stroke-width="0.52"/>
<line x1="271.0" y1="216.2" x2="274.2" y2="218.8" stroke="rgb(190,190,190)" stroke-width="0.75"/>
<line x1="247.3" y1="204.5" x2="254.2" y2="209.3" stroke="rgb(164,164,164)" stroke-width="0.63"/>
<line x1="273.7" y1="216.2" x2="279.4" y2="220.7" stroke="rgb(159,159,159)" stroke-width="0.88"/>
<line x1="255.9" y1="200.8" x2="261.2" y2="206.1" stroke="rgb(173,173,173)" stroke-width="0.53"/>
<line x1="253.3" y1="229.0" x2="255.8" y2="231.1" stroke="rgb(173,173,173)" stroke-width="0.74"/>
<line x1="228.3" y1="224.2" x2="231.7" y2="227.8" stroke="rgb(163,163,163)" stroke-width="0.88"/>
<line x1="241.2" y1="195.3" x2="246.0" y2="200.1" stroke="rgb(215,215,215)" stroke-width="0.47"/>
<line x1="216.4" y1="189.2" x2="220.7" y2="194.1" stroke="rgb(210,210,210)" stroke-width="0.77"/>
<line x1="276.4" y1="229.3" x2="279.5" y2="232.8" stroke="rgb(199,199,199)" stroke-width="0.42"/>
<line x1="253.0" y1="204.1" x2="257.8" y2="207.7" stroke="rgb(140,140,140)" stroke-width="0.54"/>
<line x1="231.1" y1="230.4" x2="240.3" y2="237.6" stroke="rgb(168,168,168)" stroke-width="0.81"/>
<line x1="264.1" y1="206.5" x2="269.6" y2="211.2" stroke="rgb(213,213,213)" stroke-width="0.50"/>
<line x1="232.0" y1="227.7" x2="236.5" y2="232.6" stroke="rgb(201,201,201)" stroke-width="0.42"/>
<line x1="228.6" y1="199.4" x2="235.1" y2="206.7" stroke="rgb(190,190,190)" stroke-width="0.87"/>
<line x1="273.6" y1="230.3" x2="277.5" y2="233.8" stroke="rgb(179,179,179)" stroke-width="0.86"/>
<line x1="264.2" y1="222.0" x2="268.7" y2="225.8" stroke="rgb(168,168,168)" stroke-width="0.79"/>
<line x1="223.8" y1="189.8" x2="229.9" y2="194.9" stroke="rgb(218,218,218)" stroke-width="0.84"/>
<line x1="275.7" y1="198.9" x2="278.6" y2="201.5" stroke="rgb(196,196,196)" stroke-width="0.62"/>
<line x1="227.0" y1="212.6" x2="234.6" y2="218.6" stroke="rgb(159,159,159)" stroke-width="0.52"/>
<line x1="252.3" y1="232.0" x2="257.2" y2="237.3" stroke="rgb(207,207,207)" stroke-width="0.86"/>
<line x1="209.3" y1="200.2" x2="212.3" y2="203.8" stroke="rgb(186,186,186)" stroke-width="0.87"/>
<line x1="232.5" y1="226.3" x2="236.2" y2="230.2" stroke="rgb(215,215,215)" stroke-width="0.45"/>
<line x1="248.3" y1="215.1" x2="253.3" y2="218.9" stroke="rgb(156,156,156)" stroke-width="0.53"/>
<line x1="248.5" y1="216.5" x2="250.9" y2="218.5" stroke="rgb(194,194,194)" stroke-width="0.49"/>
<line x1="244.9" y1="189.7" x2="249.7" y2="194.2" stroke="rgb(191,191,191)" stroke-width="0.45"/>
<line x1="228.3" y1="212.6" x2="232.9" y2="217.6" stroke="rgb(219,219,219)" stroke-width="0.58"/>
<line x1="220.3" y1="220.0" x2="222.3" y2="222.3" stroke="rgb(173,173,173)" stroke-width="0.81"/>
<line x1="234.9" y1="227.1" x2="238.6" y2="229.6" stroke="rgb(184,184,184)" stroke-width="0.72"/>
<line x1="270.3" y1="190.9" x2="274.9" y2="195.1" stroke="rgb(151,151,151)" stroke-width="0.54"/>
<line x1="243.0" y1="229.0" x2="248.0" y2="234.4" stroke="rgb(217,217,217)" stroke-width="0.50"/>
<line x1="264.3" y1="194.1" x2="268.1" y2="197.4" stroke="rgb(207,207,207)" stroke-width="0.81"/>
<line x1="242.8" y1="204.3" x2="246.4" y2="208.0" stroke="rgb(211,211,211)" stroke-width="0.42"/>
<line x1="245.9" y1="221.3" x2="254.3" y2="227.7" stroke="rgb(187,187,187)" stroke-width="0.68"/>
<line x1="250.4" y1="200.8" x2="256.6" y2="206.2" stroke="rgb(192,192,192)" stroke-width="0.62"/>
<line x1="261.2" y1="207.7" x2="267.0" y2="212.0" stroke="rgb(150,150,150)" stroke-width="0.62"/>
<line x1="209.3" y1="215.8" x2="215.9" y2="222.8" stroke="rgb(180,180,180)" stroke-width="0.43"/>
<line x1="257.8" y1="224.0" x2="266.5" y2="231.9" stroke="rgb(216,216,216)" stroke-width="0.86"/>
<line x1="217.6" y1="227.7" x2="225.8" y2="233.9" stroke="rgb(180,180,180)" stroke-width="0.86"/>
<line x1="228.8" y1="188.5" x2="231.7" y2="191.8" stroke="rgb(194,194,194)" stroke-width="0.85"/>
<line x1="218.3" y1="222.6" x2="223.8" y2="228.0" stroke="rgb(168,168,168)" stroke-width="0.84"/>
<line x1="234.1" y1="223.2" x2="242.7" y2="231.4" stroke="rgb(168,168,168)" stroke-width="0.78"/>
<line x1="209.8" y1="224.2" x2="215.5" y2="230.9" stroke="rgb(186,186,186)" stroke-width="0.73"/>
<line x1="228.4" y1="186.9" x2="231.5" y2="189.9" stroke="rgb(174,174,174)" stroke-width="0.66"/>
<line x1="269.3" y1="192.8" x2="276.5" y2="198.0" stroke="rgb(140,140,140)" stroke-width="0.58"/>
<line x1="213.9" y1="203.1" x2="219.8" y2="208.8" stroke="rgb(156,156,156)" stroke-width="0.71"/>
<line x1="223.5" y1="193.6" x2="229.4" y2="200.1" stroke="rgb(202,202,202)" stroke-width="0.60"/>
<line x1="245.9" y1="202.8" x2="250.5" y2="208.1" stroke="rgb(198,198,198)" stroke-width="0.52"/>
<line x1="269.8" y1="188.8" x2="275.0" y2="193.0" stroke="rgb(144,144,144)" stroke-width="0.79"/>
<line x1="218.7" y1="200.9" x2="221.0" y2="203.5" stroke="rgb(202,202,202)" stroke-width="0.76"/>
<line x1="239.1" y1="220.6" x2="243.1" y2="223.6" stroke="rgb(158,158,158)" stroke-width="0.42"/>
<line x1="265.7" y1="219.3" x2="271.7" y2="224.5" stroke="rgb(203,203,203)" stroke-width="0.66"/>
<line x1="221.6" y1="226.9" x2="225.8" y2="230.3" stroke="rgb(199,199,199)" stroke-width="0.87"/>
<line x1="250.7" y1="218.4" x2="259.5" y2="226.3" stroke="rgb(207,207,207)" stroke-width="0.75"/>
<line x1="266.6" y1="206.7" x2="272.9" y2="211.9" stroke="rgb(156,156,156)" stroke-width="0.71"/>
<line x1="211.9" y1="228.3" x2="214.5" y2="230.3" stroke="rgb(214,214,214)" stroke-width="0.57"/>
<line x1="216.4" y1="188.1" x2="223.0" y2="194.6" stroke="rgb(195,195,195)" stroke-width="0.77"/>
<line x1="272.7" y1="191.7" x2="276.0" y2="194.0" stroke="rgb(207,207,207)" stroke-width="0.81"/>
<line x1="250.9" y1="224.4" x2="255.4" y2="227.7" stroke="rgb(147,147,147)" stroke-width="0.78"/>
<g filter="url(#b3)">
<circle cx="243.1" cy="219.9" r="0.52" fill="rgb(137,137,137)"/>
<circle cx="241.3" cy="219.7" r="0.87" fill="rgb(166,166,166)"/>
<circle cx="234.4" cy="230.1" r="1.35" fill="rgb(145,145,145)"/>
<circle cx="240.3" cy="213.0" r="0.94" fill="rgb(136,136,136)"/>
<circle cx="242.4" cy="207.9" r="1.04" fill="rgb(165,165,165)"/>
<circle cx="244.2" cy="227.5" r="1.32" fill="rgb(104,104,104)"/>
<circle cx="241.7" cy="214.5" r="1.26" fill="rgb(115,115,115)"/>
<circle cx="242.1" cy="214.1" r="0.99" fill="rgb(144,144,144)"/>
<circle cx="242.7" cy="210.0" r="0.85" fill="rgb(144,144,144)"/>
<circle cx="243.9" cy="209.5" r="0.78" fill="rgb(189,189,189)"/>
<circle cx="243.7" cy="224.5" r="0.61" fill="rgb(144,144,144)"/>
<circle cx="239.8" cy="212.0" r="1.20" fill="rgb(173,173,173)"/>
<circle cx="243.6" cy="204.8" r="0.90" fill="rgb(130,130,130)"/>
<circle cx="230.9" cy="223.0" r="1.39" fill="rgb(103,103,103)"/>
<circle cx="245.8" cy="214.9" r="1.40" fill="rgb(121,121,121)"/>
<circle cx="235.3" cy="214.1" r="0.73" fill="rgb(183,183,183)"/>
<circle cx="233.9" cy="216.2" r="1.25" fill="rgb(170,170,170)"/>
<circle cx="237.9" cy="209.1" r="0.66" fill="rgb(127,127,127)"/>
<circle cx="246.7" cy="205.8" r="0.67" fill="rgb(169,169,169)"/>
<circle cx="231.3" cy="218.6" r="0.63" fill="rgb(152,152,152)"/>
<circle cx="228.6" cy="217.5" r="0.69" fill="rgb(118,118,118)"/>
<circle cx="238.3" cy="224.3" r="0.65" fill="rgb(179,179,179)"/>
<circle cx="244.2" cy="218.4" r="1.02" fill="rgb(127,127,127)"/>
<circle cx="244.5" cy="219.3" r="1.48" fill="rgb(113,113,113)"/>
<circle cx="241.1" cy="211.0" r="0.60" fill="rgb(191,191,191)"/>
<circle cx="227.8" cy="227.2" r="1.23" fill="rgb(174,174,174)"/>
<circle cx="237.6" cy="216.0" r="0.61" fill="rgb(158,158,158)"/>
<circle cx="243.2" cy="220.7" r="0.90" fill="rgb(98,98,98)"/>
<circle cx="244.0" cy="204.0" r="1.13" fill="rgb(145,145,145)"/>
<circle cx="238.1" cy="215.0" r="0.90" fill="rgb(155,155,155)"/>
<circle cx="240.7" cy="199.2" r="1.07" fill="rgb(138,138,138)"/>
<circle cx="241.5" cy="207.0" r="1.22" fill="rgb(117,117,117)"/>
<circle cx="249.5" cy="206.1" r="1.35" fill="rgb(165,165,165)"/>
<circle cx="237.6" cy="205.3" r="0.81" fill="rgb(140,140,140)"/>
<circle cx="239.5" cy="211.9" r="1.28" fill="rgb(136,136,136)"/>
<circle cx="239.4" cy="204.8" r="0.92" fill="rgb(120,120,120)"/>
<circle cx="233.0" cy="216.8" r="1.18" fill="rgb(135,135,135)"/>
<circle cx="245.2" cy="212.3" r="1.28" fill="rgb(160,160,160)"/>
<circle cx="235.8" cy="219.3" r="0.54" fill="rgb(192,192,192)"/>
<circle cx="237.9" cy="213.1" r="1.44" fill="rgb(173,173,173)"/>
<circle cx="238.6" cy="213.8" r="1.04" fill="rgb(152,152,152)"/>
<circle cx="240.0" cy="206.1" r="1.33" fill="rgb(158,158,158)"/>
<circle cx="235.0" cy="213.2" r="0.71" fill="rgb(189,189,189)"/>
<circle cx="239.0" cy="207.9" r="0.62" fill="rgb(171,171,171)"/>
<circle cx="247.5" cy="213.5" r="0.77" fill="rgb(100,100,100)"/>
<circle cx="240.7" cy="214.8" r="0.92" fill="rgb(136,136,136)"/>
<circle cx="239.6" cy="208.1" r="0.72" fill="rgb(121,121,121)"/>
<circle cx="240.7" cy="198.0" r="0.72" fill="rgb(147,147,147)"/>
<circle cx="243.5" cy="207.7" r="0.63" fill="rgb(116,116,116)"/>
<circle cx="243.4" cy="201.9" r="0.97" fill="rgb(158,158,158)"/>
<circle cx="237.3" cy="212.3" r="0.85" fill="rgb(191,191,191)"/>
<circle cx="233.9" cy="204.5" r="0.97" fill="rgb(176,176,176)"/>
<circle cx="239.3" cy="222.5" r="1.33" fill="rgb(107,107,107)"/>
<circle cx="233.9" cy="224.7" r="0.88" fill="rgb(121,121,121)"/>
<circle cx="241.4" cy="221.4" r="0.50" fill="rgb(113,113,113)"/>
<circle cx="240.6" cy="208.7" r="0.80" fill="rgb(119,119,119)"/>
<circle cx="234.8" cy="215.1" r="1.16" fill="rgb(158,158,158)"/>
<circle cx="232.0" cy="226.1" r="0.56" fill="rgb(180,180,180)"/>
<circle cx="248.0" cy="201.0" r="0.64" fill="rgb(173,173,173)"/>
<circle cx="245.9" cy="205.7" r="0.51" fill="rgb(96,96,96)"/>
<circle cx="250.4" cy="211.2" r="0.60" fill="rgb(120,120,120)"/>
<circle cx="244.4" cy="218.1" r="0.85" fill="rgb(172,172,172)"/>
<circle cx="249.4" cy="226.3" r="0.67" fill="rgb(174,174,174)"/>
<circle cx="248.3" cy="208.2" r="1.17" fill="rgb(173,173,173)"/>
<circle cx="250.3" cy="206.7" r="0.70" fill="rgb(178,178,178)"/>
<circle cx="238.7" cy="206.3" r="0.94" fill="rgb(169,169,169)"/>
<circle cx="262.2" cy="199.2" r="0.73" fill="rgb(121,121,121)"/>
<circle cx="260.9" cy="211.2" r="0.97" fill="rgb(100,100,100)"/>
<circle cx="260.8" cy="211.3" r="1.04" fill="rgb(144,144,144)"/>
<circle cx="256.7" cy="204.4" r="0.97" fill="rgb(179,179,179)"/>
<circle cx="247.5" cy="201.2" r="0.87" fill="rgb(179,179,179)"/>
<circle cx="242.0" cy="213.5" r="1.14" fill="rgb(102,102,102)"/>
<circle cx="255.2" cy="203.8" r="1.18" fill="rgb(155,155,155)"/>
<circle cx="261.4" cy="202.5" r="1.01" fill="rgb(193,193,193)"/>
<circle cx="242.6" cy="206.4" r="1.22" fill="rgb(98,98,98)"/>
<circle cx="252.1" cy="200.6" r="0.87" fill="rgb(181,181,181)"/>
<circle cx="248.5" cy="206.4" r="0.71" fill="rgb(172,172,172)"/>
<circle cx="250.0" cy="207.9" r="1.33" fill="rgb(150,150,150)"/>
<circle cx="253.0" cy="217.4" r="1.00" fill="rgb(135,135,135)"/>
<circle cx="255.2" cy="213.1" r="1.15" fill="rgb(192,192,192)"/>
<circle cx="257.7" cy="199.1" r="0.80" fill="rgb(126,126,126)"/>
<circle cx="248.4" cy="200.0" r="0.54" fill="rgb(173,173,173)"/>
<circle cx="253.9" cy="191.0" r="0.55" fill="rgb(149,149,149)"/>
<circle cx="256.0" cy="205.8" r="1.42" fill="rgb(113,113,113)"/>
<circle cx="248.9" cy="198.7" r="1.41" fill="rgb(173,173,173)"/>
<circle cx="249.4" cy="198.9" r="1.20" fill="rgb(157,157,157)"/>
<circle cx="248.3" cy="199.2" r="1.17" fill="rgb(116,116,116)"/>
<circle cx="245.7" cy="208.1" r="0.68" fill="rgb(105,105,105)"/>
<circle cx="266.9" cy="207.8" r="1.16" fill="rgb(186,186,186)"/>
<circle cx="248.1" cy="214.4" r="1.06" fill="rgb(173,173,173)"/>
<circle cx="255.9" cy="210.8" r="0.82" fill="rgb(137,137,137)"/>
<circle cx="247.9" cy="209.2" r="0.55" fill="rgb(188,188,188)"/>
<circle cx="254.5" cy="204.2" r="1.31" fill="rgb(106,106,106)"/>
<circle cx="243.5" cy="198.1" r="0.51" fill="rgb(139,139,139)"/>
<circle cx="249.7" cy="211.0" r="1.48" fill="rgb(188,188,188)"/>
<circle cx="249.7" cy="206.1" r="1.14" fill="rgb(105,105,105)"/>
<circle cx="257.0" cy="208.9" r="0.50" fill="rgb(96,96,96)"/>
<circle cx="254.9" cy="201.9" r="0.59" fill="rgb(191,191,191)"/>
<circle cx="258.5" cy="202.4" r="1.22" fill="rgb(96,96,96)"/>
<circle cx="256.7" cy="216.2" r="0.55" fill="rgb(113,113,113)"/>
<circle cx="257.7" cy="194.3" r="1.23" fill="rgb(180,180,180)"/>
<circle cx="263.9" cy="209.9" r="0.96" fill="rgb(165,165,165)"/>
<circle cx="260.6" cy="202.9" r="1.22" fill="rgb(191,191,191)"/>
<circle cx="257.3" cy="205.1" r="1.32" fill="rgb(160,160,160)"/>
<circle cx="261.0" cy="207.9" r="0.67" fill="rgb(167,167,167)"/>
<circle cx="260.9" cy="199.0" r="0.87" fill="rgb(100,100,100)"/>
<circle cx="250.1" cy="201.7" r="0.64" fill="rgb(162,162,162)"/>
<circle cx="258.0" cy="198.8" r="1.13" fill="rgb(159,159,159)"/>
<circle cx="250.7" cy="208.4" r="1.44" fill="rgb(173,173,173)"/>
<circle cx="258.0" cy="196.4" r="0.56" fill="rgb(124,124,124)"/>
<circle cx="266.0" cy="203.3" r="0.83" fill="rgb(177,177,177)"/>
<circle cx="242.4" cy="193.4" r="1.10" fill="rgb(178,178,178)"/>
<circle cx="253.8" cy="211.8" r="0.88" fill="rgb(183,183,183)"/>
<circle cx="252.7" cy="196.5" r="1.31" fill="rgb(184,184,184)"/>
<circle cx="256.1" cy="205.4" r="0.92" fill="rgb(121,121,121)"/>
<circle cx="246.1" cy="198.5" r="0.54" fill="rgb(183,183,183)"/>
<circle cx="262.0" cy="194.2" r="1.07" fill="rgb(181,181,181)"/>
<circle cx="254.3" cy="218.2" r="1.18" fill="rgb(175,175,175)"/>
<circle cx="261.2" cy="201.8" r="1.05" fill="rgb(103,103,103)"/>
<circle cx="257.4" cy="200.7" r="1.43" fill="rgb(170,170,170)"/>
<circle cx="257.1" cy="214.3" r="0.97" fill="rgb(162,162,162)"/>
<circle cx="257.5" cy="210.1" r="1.29" fill="rgb(170,170,170)"/>
<circle cx="253.5" cy="205.8" r="1.27" fill="rgb(175,175,175)"/>
<circle cx="257.1" cy="214.0" r="1.39" fill="rgb(184,184,184)"/>
<circle cx="249.0" cy="204.0" r="0.69" fill="rgb(153,153,153)"/>
<circle cx="257.6" cy="209.1" r="0.86" fill="rgb(165,165,165)"/>
<circle cx="250.2" cy="202.3" r="0.65" fill="rgb(146,146,146)"/>
<circle cx="277.2" cy="211.5" r="0.61" fill="rgb(132,132,132)"/>
<circle cx="248.6" cy="196.1" r="1.10" fill="rgb(110,110,110)"/>
<circle cx="251.8" cy="211.9" r="0.53" fill="rgb(97,97,97)"/>
<circle cx="269.0" cy="204.2" r="1.07" fill="rgb(143,143,143)"/>
<circle cx="255.4" cy="216.9" r="1.45" fill="rgb(137,137,137)"/>
<rect x="261.8" y="224.1" width="0.8" height="0.6" fill="rgb(217,217,217)"/>
<rect x="225.6" y="195.0" width="0.6" height="1.0" fill="rgb(155,155,155)"/>
<rect x="268.3" y="207.7" width="1.3" height="0.7" fill="rgb(216,216,216)"/>
<rect x="251.0" y="204.9" width="1.4" height="0.8" fill="rgb(158,158,158)"/>
<rect x="248.8" y="216.0" width="1.1" height="0.9" fill="rgb(216,216,216)"/>
<rect x="241.4" y="194.1" width="1.4" height="0.8" fill="rgb(217,217,217)"/>
<rect x="215.3" y="198.5" width="1.3" height="1.3" fill="rgb(174,174,174)"/>
<rect x="266.2" y="188.9" width="1.2" height="1.1" fill="rgb(205,205,205)"/>
<rect x="275.7" y="189.3" width="1.2" height="1.4" fill="rgb(160,160,160)"/>
<rect x="256.0" y="200.4" width="1.2" height="0.7" fill="rgb(191,191,191)"/>
<rect x="233.5" y="198.5" width="1.0" height="0.7" fill="rgb(158,158,158)"/>
<rect x="228.0" y="193.3" width="0.6" height="1.2" fill="rgb(197,197,197)"/>
<rect x="225.2" y="188.4" width="0.8" height="1.3" fill="rgb(214,214,214)"/>
<rect x="268.1" y="227.3" width="1.0" height="0.7" fill="rgb(159,159,159)"/>
<rect x="272.1" y="225.2" width="1.0" height="0.9" fill="rgb(193,193,193)"/>
<rect x="265.3" y="208.6" width="0.7" height="0.8" fill="rgb(193,193,193)"/>
<rect x="216.4" y="219.3" width="0.7" height="1.3" fill="rgb(188,188,188)"/>
<rect x="229.8" y="205.6" width="0.8" height="1.3" fill="rgb(160,160,160)"/>
<rect x="234.1" y="194.5" width="0.9" height="1.3" fill="rgb(184,184,184)"/>
<rect x="220.1" y="231.4" width="1.3" height="1.1" fill="rgb(153,153,153)"/>
<rect x="226.3" y="208.6" width="0.8" height="0.8" fill="rgb(170,170,170)"/>
<rect x="236.0" y="232.0" width="1.3" height="0.7" fill="rgb(219,219,219)"/>
<rect x="231.3" y="227.7" width="1.2" height="0.8" fill="rgb(154,154,154)"/>
<rect x="275.2" y="187.5" width="0.9" height="0.7" fill="rgb(206,206,206)"/>
<rect x="212.9" y="224.8" width="0.7" height="0.9" fill="rgb(186,186,186)"/>
<rect x="271.0" y="196.8" width="0.7" height="0.7" fill="rgb(189,189,189)"/>
<rect x="262.0" y="219.2" width="0.7" height="0.7" fill="rgb(163,163,163)"/>
<rect x="251.6" y="209.4" width="0.8" height="1.1" fill="rgb(169,169,169)"/>
<rect x="258.0" y="223.8" width="0.8" height="0.7" fill="rgb(190,190,190)"/>
<rect x="259.5" y="205.4" width="0.6" height="1.2" fill="rgb(200,200,200)"/>
<rect x="234.2" y="225.2" width="1.0" height="0.6" fill="rgb(210,210,210)"/>
<rect x="270.9" y="208.5" width="0.8" height="0.7" fill="rgb(211,211,211)"/>
<rect x="265.9" y="203.5" width="0.9" height="1.1" fill="rgb(161,161,161)"/>
<rect x="213.1" y="210.5" width="1.0" height="0.7" fill="rgb(181,181,181)"/>
<rect x="258.4" y="224.0" width="0.9" height="1.2" fill="rgb(210,210,210)"/>
<rect x="237.1" y="221.1" width="1.3" height="1.4" fill="rgb(154,154,154)"/>
<rect x="244.4" y="210.2" width="1.0" height="0.6" fill="rgb(187,187,187)"/>
<rect x="274.5" y="197.0" width="0.7" height="0.8" fill="rgb(162,162,162)"/>
<rect x="264.9" y="188.2" width="1.2" height="0.8" fill="rgb(156,156,156)"/>
<rect x="213.9" y="214.1" width="1.0" height="1.2" fill="rgb(190,190,190)"/>
<rect x="219.4" y="226.5" width="0.6" height="0.7" fill="rgb(200,200,200)"/>
<rect x="244.3" y="209.6" width="0.7" height="0.9" fill="rgb(169,169,169)"/>
<rect x="221.5" y="213.8" width="0.7" height="1.1" fill="rgb(210,210,210)"/>
<rect x="260.4" y="194.3" width="1.4" height="0.9" fill="rgb(207,207,207)"/>
<rect x="239.6" y="225.1" width="0.9" height="1.4" fill="rgb(186,186,186)"/>
<rect x="262.4" y="202.2" width="0.9" height="0.9" fill="rgb(166,166,166)"/>
<rect x="275.4" y="223.5" width="1.3" height="1.3" fill="rgb(213,213,213)"/>
<rect x="216.2" y="210.4" width="1.3" height="0.8" fill="rgb(217,217,217)"/>
<rect x="239.7" y="215.7" width="1.0" height="0.7" fill="rgb(175,175,175)"/>
<rect x="240.4" y="209.8" width="0.7" height="1.4" fill="rgb(151,151,151)"/>
<rect x="262.3" y="229.5" width="1.2" height="1.3" fill="rgb(194,194,194)"/>
<rect x="269.2" y="188.4" width="0.8" height="1.1" fill="rgb(194,194,194)"/>
<rect x="230.2" y="211.5" width="1.1" height="0.8" fill="rgb(214,214,214)"/>
<rect x="246.0" y="206.6" width="0.8" height="0.8" fill="rgb(216,216,216)"/>
<rect x="254.1" y="192.3" width="1.4" height="1.0" fill="rgb(191,191,191)"/>
<rect x="229.9" y="208.1" width="0.7" height="0.7" fill="rgb(187,187,187)"/>
<rect x="221.2" y="200.2" width="0.8" height="0.8" fill="rgb(178,178,178)"/>
<rect x="218.4" y="211.7" width="1.1" height="1.1" fill="rgb(208,208,208)"/>
<rect x="254.3" y="196.0" width="1.0" height="1.0" fill="rgb(199,199,199)"/>
<rect x="251.9" y="208.2" width="0.8" height="0.8" fill="rgb(171,171,171)"/>
<rect x="245.5" y="204.3" width="0.6" height="0.9" fill="rgb(190,190,190)"/>
<rect x="267.8" y="197.7" width="1.0" height="0.8" fill="rgb(188,188,188)"/>
<rect x="275.8" y="200.3" width="0.7" height="0.7" fill="rgb(204,204,204)"/>
<rect x="268.4" y="206.9" width="0.9" height="1.0" fill="rgb(154,154,154)"/>
<rect x="259.7" y="191.8" width="1.4" height="1.2" fill="rgb(165,165,165)"/>
<rect x="222.7" y="202.2" width="1.1" height="1.1" fill="rgb(174,174,174)"/>
<rect x="267.0" y="224.2" width="1.2" height="1.2" fill="rgb(186,186,186)"/>
<rect x="261.3" y="208.5" width="1.2" height="1.3" fill="rgb(204,204,204)"/>
<rect x="220.9" y="226.5" width="1.2" height="1.1" fill="rgb(150,150,150)"/>
<rect x="244.6" y="230.7" width="0.9" height="1.2" fill="rgb(190,190,190)"/>
<rect x="268.5" y="214.5" width="1.0" height="1.0" fill="rgb(176,176,176)"/>
<rect x="258.9" y="200.2" width="1.0" height="0.9" fill="rgb(177,177,177)"/>
<rect x="233.3" y="222.7" width="1.0" height="1.0" fill="rgb(209,209,209)"/>
<rect x="224.6" y="200.7" width="1.1" height="1.1" fill="rgb(160,160,160)"/>
<rect x="218.4" y="228.8" width="1.3" height="1.3" fill="rgb(172,172,172)"/>
<rect x="274.0" y="196.1" width="1.3" height="0.6" fill="rgb(179,179,179)"/>
<rect x="215.8" y="212.6" width="1.3" height="1.2" fill="rgb(184,184,184)"/>
<rect x="247.2" y="232.3" width="1.0" height="1.1" fill="rgb(186,186,186)"/>
<rect x="237.7" y="203.1" width="0.9" height="1.4" fill="rgb(191,191,191)"/>
<rect x="256.0" y="210.8" width="0.9" height="0.9" fill="rgb(156,156,156)"/>
<rect x="248.6" y="213.0" width="1.4" height="1.0" fill="rgb(211,211,211)"/>
<rect x="240.9" y="215.3" width="0.9" height="1.0" fill="rgb(219,219,219)"/>
<rect x="264.9" y="194.6" width="1.4" height="1.3" fill="rgb(172,172,172)"/>
<rect x="245.5" y="191.8" width="1.2" height="1.3" fill="rgb(212,212,212)"/>
<rect x="276.0" y="227.3" width="0.7" height="0.8" fill="rgb(179,179,179)"/>
<rect x="245.4" y="209.8" width="0.7" height="1.1" fill="rgb(163,163,163)"/>
<rect x="251.3" y="202.9" width="1.1" height="0.6" fill="rgb(219,219,219)"/>
<rect x="239.0" y="222.7" width="1.2" height="0.6" fill="rgb(171,171,171)"/>
<rect x="232.2" y="225.2" width="1.1" height="0.8" fill="rgb(191,191,191)"/>
<rect x="244.6" y="212.0" width="1.1" height="1.0" fill="rgb(168,168,168)"/>
<rect x="276.4" y="213.0" width="0.7" height="0.7" fill="rgb(178,178,178)"/>
<rect x="261.3" y="191.7" width="0.7" height="1.0" fill="rgb(157,157,157)"/>
<rect x="265.3" y="214.8" width="0.6" height="0.6" fill="rgb(206,206,206)"/>
<rect x="262.0" y="201.5" width="0.9" height="0.7" fill="rgb(200,200,200)"/>
<rect x="229.8" y="191.3" width="1.1" height="0.9" fill="rgb(213,213,213)"/>
<rect x="241.5" y="204.4" width="1.3" height="1.1" fill="rgb(153,153,153)"/>
<rect x="274.0" y="206.8" width="0.8" height="0.6" fill="rgb(193,193,193)"/>
<rect x="272.2" y="225.8" width="1.3" height="1.3" fill="rgb(172,172,172)"/>
<rect x="232.2" y="214.3" width="1.0" height="1.4" fill="rgb(217,217,217)"/>
<rect x="228.3" y="204.6" width="0.8" height="0.8" fill="rgb(200,200,200)"/>
<rect x="268.6" y="208.9" width="0.8" height="0.7" fill="rgb(205,205,205)"/>
<rect x="235.7" y="195.3" width="0.8" height="1.0" fill="rgb(218,218,218)"/>
<rect x="220.1" y="211.1" width="0.9" height="0.7" fill="rgb(176,176,176)"/>
<rect x="220.7" y="224.5" width="0.8" height="0.8" fill="rgb(174,174,174)"/>
<rect x="230.9" y="197.6" width="1.1" height="0.9" fill="rgb(152,152,152)"/>
<rect x="222.7" y="219.0" width="0.8" height="1.3" fill="rgb(156,156,156)"/>
<rect x="221.0" y="207.0" width="1.2" height="0.7" fill="rgb(208,208,208)"/>
<rect x="235.3" y="219.7" width="1.4" height="0.8" fill="rgb(176,176,176)"/>
<rect x="273.5" y="209.8" width="1.0" height="0.7" fill="rgb(165,165,165)"/>
<rect x="257.9" y="198.7" width="1.1" height="0.9" fill="rgb(212,212,212)"/>
<rect x="228.5" y="214.5" width="1.3" height="0.7" fill="rgb(164,164,164)"/>
<rect x="245.5" y="211.5" width="1.2" height="0.9" fill="rgb(168,168,168)"/>
<rect x="254.7" y="212.7" width="0.9" height="0.7" fill="rgb(171,171,171)"/>
<rect x="224.1" y="225.6" width="1.1" height="0.7" fill="rgb(172,172,172)"/>
<rect x="248.7" y="203.3" width="0.8" height="0.7" fill="rgb(185,185,185)"/>
<rect x="232.7" y="197.1" width="1.2" height="0.8" fill="rgb(158,158,158)"/>
<rect x="238.5" y="228.2" width="1.3" height="1.3" fill="rgb(204,204,204)"/>
<rect x="221.2" y="199.4" width="1.1" height="1.1" fill="rgb(152,152,152)"/>
<rect x="235.2" y="205.6" width="1.2" height="0.8" fill="rgb(196,196,196)"/>
<rect x="266.8" y="202.9" width="0.7" height="0.7" fill="rgb(194,194,194)"/>
<rect x="271.0" y="220.3" width="0.6" height="0.6" fill="rgb(199,199,199)"/>
<rect x="223.1" y="195.8" width="0.9" height="0.6" fill="rgb(171,171,171)"/>
<rect x="232.6" y="215.9" width="1.3" height="1.1" fill="rgb(162,162,162)"/>
<rect x="258.5" y="198.4" width="1.1" height="0.9" fill="rgb(180,180,180)"/>
<rect x="212.9" y="224.8" width="0.8" height="0.6" fill="rgb(204,204,204)"/>
<rect x="267.3" y="214.5" width="0.8" height="0.7" fill="rgb(153,153,153)"/>
<rect x="263.3" y="196.4" width="1.2" height="0.7" fill="rgb(214,214,214)"/>
<rect x="257.1" y="204.7" width="1.3" height="0.8" fill="rgb(202,202,202)"/>
<rect x="218.5" y="230.0" width="1.3" height="1.2" fill="rgb(179,179,179)"/>
<rect x="259.9" y="224.6" width="1.0" height="0.6" fill="rgb(193,193,193)"/>
<rect x="257.3" y="206.3" width="1.3" height="0.7" fill="rgb(185,185,185)"/>
<rect x="261.4" y="188.8" width="1.2" height="0.8" fill="rgb(199,199,199)"/>
<rect x="247.7" y="231.0" width="1.0" height="0.8" fill="rgb(194,194,194)"/>
<rect x="216.6" y="203.1" width="0.8" height="0.8" fill="rgb(178,178,178)"/>
<rect x="221.5" y="219.0" width="0.8" height="0.8" fill="rgb(196,196,196)"/>
<rect x="245.7" y="207.1" width="0.9" height="0.8" fill="rgb(215,215,215)"/>
<rect x="269.2" y="193.3" width="0.9" height="1.3" fill="rgb(189,189,189)"/>
<rect x="247.8" y="221.5" width="1.1" height="1.1" fill="rgb(161,161,161)"/>
<rect x="242.2" y="221.7" width="0.7" height="0.8" fill="rgb(208,208,208)"/>
<rect x="235.8" y="196.2" width="0.8" height="0.8" fill="rgb(154,154,154)"/>
<rect x="257.6" y="207.2" width="0.9" height="1.0" fill="rgb(157,157,157)"/>
<rect x="236.0" y="194.5" width="0.6" height="1.4" fill="rgb(155,155,155)"/>
<rect x="260.7" y="190.6" width="1.4" height="1.1" fill="rgb(200,200,200)"/>
<rect x="219.7" y="209.1" width="0.8" height="1.0" fill="rgb(180,180,180)"/>
<rect x="213.3" y="228.7" width="1.1" height="1.3" fill="rgb(195,195,195)"/>
<rect x="254.4" y="198.3" width="0.7" height="0.6" fill="rgb(167,167,167)"/>
<rect x="262.2" y="225.1" width="0.7" height="1.1" fill="rgb(170,170,170)"/>
<rect x="266.8" y="229.1" width="1.2" height="1.3" fill="rgb(161,161,161)"/>
<rect x="260.2" y="201.7" width="1.3" height="0.9" fill="rgb(162,162,162)"/>
<rect x="236.3" y="211.9" width="1.3" height="0.8" fill="rgb(175,175,175)"/>
<rect x="215.4" y="212.6" width="1.3" height="1.2" fill="rgb(193,193,193)"/>
<rect x="270.6" y="229.9" width="1.0" height="0.7" fill="rgb(184,184,184)"/>
<rect x="231.9" y="213.3" width="1.2" height="0.7" fill="rgb(155,155,155)"/>
<rect x="241.1" y="231.0" width="0.6" height="1.0" fill="rgb(156,156,156)"/>
<rect x="225.0" y="219.8" width="1.3" height="1.3" fill="rgb(150,150,150)"/>
<rect x="263.0" y="206.2" width="1.1" height="1.0" fill="rgb(169,169,169)"/>
<rect x="239.7" y="202.2" width="1.1" height="1.3" fill="rgb(180,180,180)"/>
<rect x="270.5" y="194.3" width="1.0" height="1.1" fill="rgb(170,170,170)"/>
<rect x="235.0" y="195.7" width="0.9" height="1.0" fill="rgb(155,155,155)"/>
<rect x="274.8" y="228.2" width="1.4" height="1.4" fill="rgb(210,210,210)"/>
<rect x="252.3" y="223.8" width="1.1" height="1.1" fill="rgb(154,154,154)"/>
<rect x="231.8" y="212.8" width="1.0" height="1.1" fill="rgb(216,216,216)"/>
<rect x="231.9" y="202.5" width="0.6" height="0.8" fill="rgb(211,211,211)"/>
<rect x="256.1" y="207.2" width="1.1" height="0.9" fill="rgb(155,155,155)"/>
<rect x="249.9" y="205.8" width="1.1" height="0.9" fill="rgb(187,187,187)"/>
<rect x="220.1" y="195.0" width="1.0" height="0.7" fill="rgb(212,212,212)"/>
<rect x="267.8" y="198.4" width="1.0" height="0.8" fill="rgb(156,156,156)"/>
<rect x="244.0" y="212.1" width="1.1" height="0.7" fill="rgb(165,165,165)"/>
<rect x="245.5" y="213.6" width="0.9" height="0.7" fill="rgb(155,155,155)"/>
<rect x="240.8" y="226.2" width="1.2" height="1.2" fill="rgb(188,188,188)"/>
<rect x="220.1" y="232.0" width="0.7" height="1.3" fill="rgb(200,200,200)"/>
<rect x="237.8" y="194.6" width="1.1" height="1.2" fill="rgb(217,217,217)"/>
<rect x="221.5" y="222.2" width="0.8" height="0.9" fill="rgb(154,154,154)"/>
<rect x="213.8" y="213.9" width="0.8" height="1.2" fill="rgb(164,164,164)"/>
<rect x="240.0" y="227.3" width="1.3" height="1.1" fill="rgb(193,193,193)"/>
<rect x="271.3" y="226.5" width="1.2" height="0.9" fill="rgb(161,161,161)"/>
<rect x="261.5" y="217.8" width="0.7" height="0.9" fill="rgb(207,207,207)"/>
<rect x="259.8" y="230.0" width="0.6" height="1.1" fill="rgb(200,200,200)"/>
<rect x="219.2" y="211.8" width="0.7" height="1.3" fill="rgb(206,206,206)"/>
<rect x="255.9" y="198.4" width="1.0" height="1.3" fill="rgb(163,163,163)"/>
<rect x="249.9" y="192.0" width="0.7" height="1.2" fill="rgb(151,151,151)"/>
<rect x="224.6" y="212.1" width="1.1" height="0.9" fill="rgb(170,170,170)"/>
<rect x="222.0" y="226.7" width="1.2" height="1.2" fill="rgb(187,187,187)"/>
<rect x="273.3" y="187.4" width="0.7" height="1.0" fill="rgb(173,173,173)"/>
<rect x="268.5" y="223.3" width="0.7" height="1.3" fill="rgb(152,152,152)"/>
<rect x="256.2" y="204.7" width="0.7" height="1.3" fill="rgb(183,183,183)"/>
<rect x="237.9" y="226.6" width="0.7" height="0.9" fill="rgb(192,192,192)"/>
<rect x="226.6" y="227.6" width="0.6" height="0.7" fill="rgb(191,191,191)"/>
<rect x="235.8" y="208.1" width="0.9" height="0.9" fill="rgb(190,190,190)"/>
<rect x="213.2" y="213.2" width="0.6" height="1.0" fill="rgb(173,173,173)"/>
<rect x="275.7" y="188.9" width="1.1" height="0.8" fill="rgb(160,160,160)"/>
<rect x="230.2" y="209.6" width="1.1" height="1.0" fill="rgb(168,168,168)"/>
<rect x="273.9" y="232.0" width="1.0" height="1.2" fill="rgb(152,152,152)"/>
<rect x="268.5" y="222.1" width="1.1" height="0.9" fill="rgb(194,194,194)"/>
<rect x="230.8" y="223.1" width="1.4" height="1.1" fill="rgb(211,211,211)"/>
<rect x="232.2" y="221.6" width="1.0" height="1.1" fill="rgb(201,201,201)"/>
<rect x="235.2" y="211.9" width="0.6" height="0.9" fill="rgb(178,178,178)"/>
<rect x="233.4" y="231.9" width="0.9" height="0.8" fill="rgb(183,183,183)"/>
<rect x="227.8" y="202.7" width="0.6" height="1.3" fill="rgb(159,159,159)"/>
<rect x="241.7" y="207.1" width="0.8" height="0.7" fill="rgb(189,189,189)"/>
<rect x="217.0" y="200.5" width="1.2" height="1.0" fill="rgb(171,171,171)"/>
<rect x="272.6" y="202.3" width="1.1" height="0.7" fill="rgb(214,214,214)"/>
<rect x="224.2" y="213.3" width="0.9" height="1.2" fill="rgb(219,219,219)"/>
<rect x="240.1" y="226.4" width="1.0" height="1.3" fill="rgb(154,154,154)"/>
<rect x="230.4" y="198.5" width="0.7" height="0.8" fill="rgb(151,151,151)"/>
<rect x="257.7" y="196.8" width="0.8" height="1.1" fill="rgb(177,177,177)"/>
<rect x="267.9" y="216.4" width="1.2" height="1.4" fill="rgb(163,163,163)"/>
<rect x="251.1" y="190.4" width="1.3" height="0.9" fill="rgb(206,206,206)"/>
<rect x="221.5" y="195.4" width="1.3" height="1.1" fill="rgb(187,187,187)"/>
<rect x="271.7" y="196.5" width="1.2" height="1.1" fill="rgb(172,172,172)"/>
<rect x="238.7" y="217.8" width="0.6" height="0.9" fill="rgb(173,173,173)"/>
<rect x="215.7" y="215.4" width="1.0" height="1.1" fill="rgb(173,173,173)"/>
<rect x="229.2" y="207.9" width="1.3" height="1.1" fill="rgb(150,150,150)"/>
<rect x="275.8" y="189.4" width="1.2" height="0.9" fill="rgb(192,192,192)"/>
<rect x="218.8" y="193.9" width="1.2" height="0.7" fill="rgb(159,159,159)"/>
<rect x="264.7" y="206.1" width="1.1" height="1.0" fill="rgb(187,187,187)"/>
<rect x="254.7" y="214.2" width="1.2" height="0.8" fill="rgb(173,173,173)"/>
<rect x="258.2" y="221.6" width="0.8" height="1.2" fill="rgb(204,204,204)"/>
<rect x="275.2" y="207.5" width="1.0" height="1.4" fill="rgb(169,169,169)"/>
<rect x="221.2" y="187.2" width="1.1" height="1.2" fill="rgb(183,183,183)"/>
<rect x="235.9" y="231.9" width="1.2" height="0.7" fill="rgb(165,165,165)"/>
<rect x="214.6" y="192.9" width="1.0" height="1.0" fill="rgb(154,154,154)"/>
<rect x="224.4" y="229.7" width="0.7" height="0.7" fill="rgb(175,175,175)"/>
<rect x="259.9" y="228.8" width="0.6" height="1.2" fill="rgb(161,161,161)"/>
<rect x="228.3" y="231.6" width="1.1" height="0.9" fill="rgb(184,184,184)"/>
<rect x="263.9" y="207.8" width="1.3" height="0.7" fill="rgb(172,172,172)"/>
<rect x="259.6" y="189.8" width="0.9" height="1.3" fill="rgb(195,195,195)"/>
<rect x="216.6" y="212.5" width="1.3" height="1.4" fill="rgb(178,178,178)"/>
<rect x="252.8" y="197.0" width="0.8" height="0.9" fill="rgb(167,167,167)"/>
<rect x="227.6" y="196.1" width="1.1" height="0.8" fill="rgb(203,203,203)"/>
<rect x="276.2" y="196.7" width="0.7" height="1.3" fill="rgb(189,189,189)"/>
<rect x="268.3" y="199.0" width="1.3" height="0.8" fill="rgb(202,202,202)"/>
<rect x="234.0" y="208.9" width="0.7" height="1.1" fill="rgb(212,212,212)"/>
<rect x="250.9" y="207.5" width="1.3" height="0.8" fill="rgb(190,190,190)"/>
<rect x="269.2" y="203.2" width="1.3" height="0.7" fill="rgb(204,204,204)"/>
<rect x="267.9" y="232.2" width="0.6" height="0.7" fill="rgb(170,170,170)"/>
<rect x="275.0" y="187.2" width="0.7" height="1.2" fill="rgb(213,213,213)"/>
<rect x="219.0" y="194.5" width="0.7" height="0.9" fill="rgb(197,197,197)"/>
<rect x="271.4" y="219.5" width="1.4" height="0.6" fill="rgb(211,211,211)"/>
<rect x="227.8" y="222.9" width="0.6" height="1.0" fill="rgb(198,198,198)"/>
<rect x="227.6" y="206.4" width="0.6" height="1.4" fill="rgb(157,157,157)"/>
<rect x="233.0" y="226.9" width="1.0" height="0.7" fill="rgb(158,158,158)"/>
<rect x="240.1" y="195.0" width="0.7" height="1.2" fill="rgb(197,197,197)"/>
<rect x="244.7" y="191.9" width="1.0" height="1.3" fill="rgb(174,174,174)"/>
<rect x="235.1" y="196.6" width="1.3" height="1.2" fill="rgb(217,217,217)"/>
<rect x="230.2" y="194.9" width="0.7" height="0.6" fill="rgb(168,168,168)"/>
<rect x="245.3" y="205.4" width="0.9" height="0.6" fill="rgb(188,188,188)"/>
<rect x="256.7" y="216.6" width="1.0" height="1.2" fill="rgb(188,188,188)"/>
<rect x="275.5" y="226.7" width="0.9" height="0.9" fill="rgb(200,200,200)"/>
<rect x="239.5" y="231.2" width="0.9" height="0.9" fill="rgb(177,177,177)"/>
</g>
</g>
<rect x="212.8" y="186.8" width="63.8" height="45.6" fill="none" stroke="#111" stroke-width="1.5"/>
<clipPath id="clip11"><rect x="387.5" y="406.5" width="34.5" height="27.0"/></clipPath>
<g clip-path="url(#clip11)">
<rect x="387.5" y="406.5" width="34.5" height="27.0" fill="url(#ig2)"/>
<line x1="401.7" y1="420.2" x2="405.1" y2="423.4" stroke="rgb(190,190,190)" stroke-width="0.80"/>
<line x1="387.6" y1="414.7" x2="394.8" y2="422.0" stroke="rgb(143,143,143)" stroke-width="0.89"/>
<line x1="420.7" y1="424.2" x2="424.3" y2="426.7" stroke="rgb(182,182,182)" stroke-width="0.43"/>
<line x1="391.3" y1="413.0" x2="396.6" y2="417.8" stroke="rgb(207,207,207)" stroke-width="0.66"/>
<line x1="408.3" y1="420.0" x2="413.9" y2="424.5" stroke="rgb(219,219,219)" stroke-width="0.90"/>
<line x1="415.9" y1="425.6" x2="419.9" y2="428.8" stroke="rgb(145,145,145)" stroke-width="0.78"/>
<line x1="399.2" y1="429.4" x2="407.1" y2="438.0" stroke="rgb(140,140,140)" stroke-width="0.50"/>
<line x1="413.6" y1="413.8" x2="417.5" y2="418.3" stroke="rgb(200,200,200)" stroke-width="0.46"/>
<line x1="393.4" y1="409.2" x2="401.5" y2="415.4" stroke="rgb(184,184,184)" stroke-width="0.62"/>
<line x1="391.3" y1="426.3" x2="398.3" y2="431.5" stroke="rgb(173,173,173)" stroke-width="0.51"/>
<line x1="395.6" y1="430.4" x2="400.0" y2="435.2" stroke="rgb(191,191,191)" stroke-width="0.45"/>
<line x1="421.6" y1="412.3" x2="429.2" y2="418.6" stroke="rgb(163,163,163)" stroke-width="0.44"/>
<line x1="387.5" y1="422.2" x2="393.9" y2="427.7" stroke="rgb(176,176,176)" stroke-width="0.88"/>
<line x1="415.1" y1="413.2" x2="421.4" y2="420.5" stroke="rgb(155,155,155)" stroke-width="0.88"/>
<line x1="417.5" y1="422.8" x2="420.7" y2="425.1" stroke="rgb(217,217,217)" stroke-width="0.52"/>
<line x1="406.7" y1="414.4" x2="414.4" y2="420.0" stroke="rgb(158,158,158)" stroke-width="0.68"/>
<line x1="416.4" y1="423.1" x2="425.3" y2="430.0" stroke="rgb(141,141,141)" stroke-width="0.53"/>
<line x1="401.0" y1="408.1" x2="405.5" y2="412.5" stroke="rgb(150,150,150)" stroke-width="0.58"/>
<line x1="417.9" y1="433.0" x2="424.5" y2="439.4" stroke="rgb(151,151,151)" stroke-width="0.42"/>
<line x1="420.6" y1="407.1" x2="425.7" y2="412.4" stroke="rgb(165,165,165)" stroke-width="0.90"/>
<line x1="418.2" y1="426.4" x2="424.9" y2="434.0" stroke="rgb(168,168,168)" stroke-width="0.74"/>
<line x1="418.2" y1="430.0" x2="425.0" y2="437.5" stroke="rgb(185,185,185)" stroke-width="0.71"/>
<line x1="417.4" y1="426.2" x2="424.4" y2="432.8" stroke="rgb(175,175,175)" stroke-width="0.82"/>
<line x1="387.2" y1="426.8" x2="393.5" y2="432.4" stroke="rgb(158,158,158)" stroke-width="0.75"/>
<line x1="393.8" y1="406.8" x2="400.9" y2="412.4" stroke="rgb(153,153,153)" stroke-width="0.85"/>
<line x1="396.5" y1="424.5" x2="401.1" y2="429.5" stroke="rgb(213,213,213)" stroke-width="0.84"/>
<line x1="398.6" y1="422.2" x2="401.8" y2="425.1" stroke="rgb(206,206,206)" stroke-width="0.82"/>
<line x1="411.0" y1="432.2" x2="414.4" y2="435.2" stroke="rgb(162,162,162)" stroke-width="0.51"/>
<line x1="399.8" y1="423.4" x2="403.7" y2="427.7" stroke="rgb(218,218,218)" stroke-width="0.63"/>
<line x1="395.8" y1="427.9" x2="398.9" y2="430.7" stroke="rgb(141,141,141)" stroke-width="0.81"/>
<line x1="393.1" y1="410.3" x2="399.5" y2="416.1" stroke="rgb(190,190,190)" stroke-width="0.73"/>
<line x1="414.7" y1="432.4" x2="418.2" y2="435.6" stroke="rgb(154,154,154)" stroke-width="0.41"/>
<line x1="402.0" y1="425.8" x2="406.1" y2="429.3" stroke="rgb(195,195,195)" stroke-width="0.66"/>
<g filter="url(#b3)">
<circle cx="396.5" cy="412.7" r="1.29" fill="rgb(161,161,161)"/>
<circle cx="404.9" cy="417.4" r="1.22" fill="rgb(191,191,191)"/>
<circle cx="406.9" cy="423.0" r="1.41" fill="rgb(174,174,174)"/>
<circle cx="398.2" cy="423.5" r="1.30" fill="rgb(188,188,188)"/>
<circle cx="408.5" cy="416.6" r="0.70" fill="rgb(175,175,175)"/>
<circle cx="401.3" cy="408.8" r="1.22" fill="rgb(175,175,175)"/>
<circle cx="405.6" cy="429.9" r="1.48" fill="rgb(193,193,193)"/>
<circle cx="394.1" cy="416.5" r="1.41" fill="rgb(157,157,157)"/>
<circle cx="406.0" cy="414.7" r="0.94" fill="rgb(144,144,144)"/>
<circle cx="394.6" cy="415.8" r="0.53" fill="rgb(166,166,166)"/>
<circle cx="403.7" cy="416.8" r="0.67" fill="rgb(183,183,183)"/>
<circle cx="398.4" cy="426.8" r="0.65" fill="rgb(147,147,147)"/>
<circle cx="394.8" cy="417.8" r="1.19" fill="rgb(186,186,186)"/>
<circle cx="408.7" cy="416.5" r="0.59" fill="rgb(192,192,192)"/>
<circle cx="404.2" cy="425.1" r="1.23" fill="rgb(155,155,155)"/>
<circle cx="399.0" cy="413.6" r="1.06" fill="rgb(186,186,186)"/>
<circle cx="401.1" cy="423.5" r="1.40" fill="rgb(186,186,186)"/>
<circle cx="405.6" cy="428.8" r="1.02" fill="rgb(193,193,193)"/>
<circle cx="399.9" cy="417.0" r="1.00" fill="rgb(169,169,169)"/>
<circle cx="402.1" cy="417.9" r="1.02" fill="rgb(193,193,193)"/>
<circle cx="392.8" cy="429.7" r="0.99" fill="rgb(170,170,170)"/>
<circle cx="397.4" cy="424.0" r="0.91" fill="rgb(169,169,169)"/>
<circle cx="405.4" cy="422.9" r="0.97" fill="rgb(154,154,154)"/>
<circle cx="400.4" cy="428.5" r="1.40" fill="rgb(184,184,184)"/>
<circle cx="394.9" cy="425.9" r="1.12" fill="rgb(150,150,150)"/>
<circle cx="399.5" cy="424.4" r="0.52" fill="rgb(182,182,182)"/>
<circle cx="398.7" cy="428.1" r="0.82" fill="rgb(177,177,177)"/>
<circle cx="394.9" cy="429.8" r="1.23" fill="rgb(145,145,145)"/>
<circle cx="400.8" cy="428.8" r="0.70" fill="rgb(153,153,153)"/>
<circle cx="394.2" cy="424.6" r="0.91" fill="rgb(160,160,160)"/>
<rect x="405.8" y="410.8" width="1.1" height="1.1" fill="rgb(164,164,164)"/>
<rect x="405.8" y="429.5" width="1.3" height="0.8" fill="rgb(192,192,192)"/>
<rect x="413.1" y="428.4" width="0.9" height="0.9" fill="rgb(213,213,213)"/>
<rect x="419.3" y="412.4" width="1.3" height="0.7" fill="rgb(219,219,219)"/>
<rect x="395.8" y="426.1" width="0.7" height="1.3" fill="rgb(168,168,168)"/>
<rect x="402.0" y="427.8" width="0.9" height="1.1" fill="rgb(158,158,158)"/>
<rect x="388.1" y="411.9" width="1.3" height="1.4" fill="rgb(197,197,197)"/>
<rect x="391.5" y="420.2" width="1.0" height="1.1" fill="rgb(203,203,203)"/>
<rect x="394.0" y="408.4" width="0.6" height="1.0" fill="rgb(157,157,157)"/>
<rect x="405.3" y="421.9" width="0.7" height="0.8" fill="rgb(160,160,160)"/>
<rect x="416.5" y="433.2" width="0.7" height="0.6" fill="rgb(214,214,214)"/>
<rect x="420.3" y="419.0" width="0.9" height="1.0" fill="rgb(203,203,203)"/>
<rect x="405.3" y="418.1" width="0.6" height="1.2" fill="rgb(192,192,192)"/>
<rect x="416.6" y="411.4" width="1.2" height="0.9" fill="rgb(181,181,181)"/>
<rect x="394.2" y="411.0" width="0.6" height="1.3" fill="rgb(185,185,185)"/>
<rect x="415.2" y="425.5" width="1.1" height="0.9" fill="rgb(210,210,210)"/>
<rect x="408.2" y="420.1" width="1.2" height="0.8" fill="rgb(218,218,218)"/>
<rect x="418.9" y="426.6" width="1.3" height="0.9" fill="rgb(204,204,204)"/>
<rect x="418.4" y="430.3" width="1.2" height="1.2" fill="rgb(198,198,198)"/>
<rect x="401.5" y="426.0" width="0.9" height="1.0" fill="rgb(154,154,154)"/>
<rect x="387.9" y="416.1" width="1.1" height="0.8" fill="rgb(194,194,194)"/>
<rect x="420.1" y="424.5" width="1.1" height="1.1" fill="rgb(173,173,173)"/>
<rect x="405.9" y="417.0" width="1.1" height="1.2" fill="rgb(219,219,219)"/>
<rect x="413.8" y="433.0" width="1.1" height="1.2" fill="rgb(151,151,151)"/>
<rect x="396.4" y="417.3" width="0.8" height="0.9" fill="rgb(153,153,153)"/>
<rect x="390.9" y="413.3" width="1.0" height="1.0" fill="rgb(213,213,213)"/>
<rect x="420.9" y="421.8" width="1.1" height="1.2" fill="rgb(219,219,219)"/>
<rect x="390.1" y="422.6" width="0.6" height="1.3" fill="rgb(203,203,203)"/>
<rect x="393.0" y="419.2" width="1.0" height="1.1" fill="rgb(161,161,161)"/>
<rect x="389.5" y="432.0" width="1.0" height="1.1" fill="rgb(179,179,179)"/>
<rect x="400.1" y="414.2" width="1.0" height="0.8" fill="rgb(195,195,195)"/>
<rect x="412.2" y="414.5" width="0.8" height="0.6" fill="rgb(150,150,150)"/>
<rect x="392.9" y="426.9" width="1.3" height="1.2" fill="rgb(177,177,177)"/>
<rect x="389.2" y="433.2" width="0.7" height="1.3" fill="rgb(216,216,216)"/>
<rect x="402.3" y="419.4" width="0.8" height="1.0" fill="rgb(218,218,218)"/>
<rect x="419.8" y="426.0" width="1.4" height="1.3" fill="rgb(182,182,182)"/>
<rect x="408.3" y="409.6" width="1.0" height="0.8" fill="rgb(193,193,193)"/>
<rect x="389.3" y="420.8" width="1.0" height="1.1" fill="rgb(158,158,158)"/>
<rect x="403.2" y="413.6" width="0.9" height="1.2" fill="rgb(190,190,190)"/>
<rect x="405.8" y="433.4" width="1.2" height="0.8" fill="rgb(216,216,216)"/>
<rect x="391.4" y="430.6" width="1.1" height="0.9" fill="rgb(204,204,204)"/>
<rect x="396.9" y="425.0" width="1.1" height="1.1" fill="rgb(189,189,189)"/>
<rect x="413.5" y="411.6" width="1.4" height="1.3" fill="rgb(167,167,167)"/>
<rect x="417.8" y="407.6" width="0.8" height="0.9" fill="rgb(154,154,154)"/>
<rect x="409.0" y="409.3" width="0.7" height="0.7" fill="rgb(187,187,187)"/>
<rect x="410.8" y="421.4" width="0.9" height="1.0" fill="rgb(194,194,194)"/>
<rect x="394.8" y="415.8" width="1.3" height="0.7" fill="rgb(202,202,202)"/>
<rect x="391.6" y="428.3" width="1.2" height="0.8" fill="rgb(193,193,193)"/>
<rect x="402.1" y="413.5" width="0.9" height="1.1" fill="rgb(206,206,206)"/>
<rect x="421.6" y="415.3" width="1.2" height="1.3" fill="rgb(188,188,188)"/>
<rect x="402.3" y="416.5" width="1.3" height="0.7" fill="rgb(156,156,156)"/>
<rect x="390.4" y="421.7" width="1.1" height="0.8" fill="rgb(183,183,183)"/>
<rect x="414.3" y="408.6" width="1.1" height="0.7" fill="rgb(164,164,164)"/>
<rect x="398.0" y="426.1" width="0.8" height="0.7" fill="rgb(198,198,198)"/>
<rect x="399.8" y="426.1" width="0.7" height="1.2" fill="rgb(175,175,175)"/>
<rect x="407.1" y="431.3" width="1.3" height="1.0" fill="rgb(215,215,215)"/>
<rect x="415.2" y="414.7" width="0.9" height="1.3" fill="rgb(172,172,172)"/>
<rect x="418.4" y="413.2" width="0.9" height="0.9" fill="rgb(175,175,175)"/>
<rect x="401.1" y="417.0" width="1.1" height="1.2" fill="rgb(163,163,163)"/>
<rect x="406.1" y="429.1" width="0.7" height="1.2" fill="rgb(189,189,189)"/>
<rect x="417.9" y="414.1" width="1.0" height="1.0" fill="rgb(151,151,151)"/>
<rect x="407.1" y="432.6" width="1.2" height="0.7" fill="rgb(195,195,195)"/>
<rect x="406.4" y="427.8" width="0.7" height="1.2" fill="rgb(155,155,155)"/>
<rect x="418.5" y="408.8" width="0.7" height="1.2" fill="rgb(194,194,194)"/>
<rect x="409.9" y="413.1" width="1.2" height="1.0" fill="rgb(165,165,165)"/>
<rect x="413.9" y="417.1" width="1.4" height="1.1" fill="rgb(173,173,173)"/>
<rect x="404.5" y="421.0" width="1.2" height="1.3" fill="rgb(200,200,200)"/>
<rect x="401.7" y="428.8" width="1.3" height="1.2" fill="rgb(196,196,196)"/>
<rect x="416.3" y="430.5" width="1.1" height="1.0" fill="rgb(217,217,217)"/>
<rect x="412.0" y="428.2" width="0.9" height="0.7" fill="rgb(179,179,179)"/>
<rect x="413.1" y="433.3" width="0.7" height="0.8" fill="rgb(176,176,176)"/>
<rect x="402.2" y="414.4" width="0.6" height="0.8" fill="rgb(217,217,217)"/>
<rect x="391.5" y="424.0" width="0.7" height="0.6" fill="rgb(204,204,204)"/>
<rect x="403.3" y="422.3" width="0.6" height="0.7" fill="rgb(213,213,213)"/>
<rect x="393.9" y="412.4" width="1.2" height="1.1" fill="rgb(166,166,166)"/>
<rect x="395.2" y="411.5" width="0.7" height="1.2" fill="rgb(169,169,169)"/>
<rect x="398.3" y="421.3" width="1.0" height="0.8" fill="rgb(207,207,207)"/>
<rect x="418.1" y="431.2" width="1.0" height="1.4" fill="rgb(173,173,173)"/>
<rect x="404.2" y="412.5" width="1.4" height="1.2" fill="rgb(153,153,153)"/>
<rect x="400.8" y="420.7" width="0.8" height="1.4" fill="rgb(186,186,186)"/>
<rect x="410.2" y="412.9" width="1.0" height="0.9" fill="rgb(150,150,150)"/>
<rect x="415.0" y="425.8" width="0.7" height="0.7" fill="rgb(192,192,192)"/>
<rect x="398.6" y="413.5" width="1.0" height="1.1" fill="rgb(210,210,210)"/>
<rect x="421.8" y="413.7" width="0.7" height="1.2" fill="rgb(187,187,187)"/>
<rect x="387.5" y="428.7" width="1.3" height="0.7" fill="rgb(209,209,209)"/>
<rect x="396.8" y="425.8" width="1.0" height="1.0" fill="rgb(156,156,156)"/>
<rect x="420.5" y="422.3" width="0.8" height="1.2" fill="rgb(210,210,210)"/>
<rect x="401.9" y="431.3" width="1.3" height="0.8" fill="rgb(156,156,156)"/>
<rect x="406.2" y="420.7" width="1.3" height="0.8" fill="rgb(161,161,161)"/>
<rect x="398.2" y="408.6" width="1.0" height="1.2" fill="rgb(171,171,171)"/>
<rect x="399.9" y="425.1" width="0.9" height="1.0" fill="rgb(157,157,157)"/>
<rect x="420.9" y="428.9" width="0.6" height="0.9" fill="rgb(195,195,195)"/>
<rect x="412.0" y="412.9" width="1.0" height="0.6" fill="rgb(189,189,189)"/>
<rect x="421.7" y="428.1" width="1.1" height="0.8" fill="rgb(164,164,164)"/>
<rect x="400.5" y="421.1" width="0.9" height="0.9" fill="rgb(170,170,170)"/>
<rect x="410.5" y="413.4" width="1.2" height="0.9" fill="rgb(163,163,163)"/>
<rect x="420.1" y="421.7" width="0.9" height="1.3" fill="rgb(200,200,200)"/>
<rect x="390.7" y="410.3" width="1.1" height="1.2" fill="rgb(156,156,156)"/>
<rect x="393.7" y="417.4" width="1.1" height="0.7" fill="rgb(208,208,208)"/>
<rect x="395.3" y="410.7" width="0.9" height="0.7" fill="rgb(158,158,158)"/>
<rect x="419.3" y="418.0" width="1.1" height="1.2" fill="rgb(185,185,185)"/>
<rect x="415.8" y="416.9" width="0.9" height="0.6" fill="rgb(173,173,173)"/>
<rect x="401.3" y="425.4" width="1.2" height="1.1" fill="rgb(218,218,218)"/>
<rect x="408.5" y="407.0" width="0.9" height="1.1" fill="rgb(173,173,173)"/>
<rect x="391.2" y="416.7" width="1.2" height="1.3" fill="rgb(185,185,185)"/>
<rect x="408.6" y="410.8" width="1.3" height="1.0" fill="rgb(203,203,203)"/>
<rect x="399.7" y="420.0" width="1.2" height="1.4" fill="rgb(159,159,159)"/>
<rect x="405.3" y="425.8" width="0.8" height="1.4" fill="rgb(208,208,208)"/>
<rect x="409.1" y="411.8" width="0.8" height="1.1" fill="rgb(155,155,155)"/>
<rect x="411.5" y="415.4" width="0.9" height="1.0" fill="rgb(215,215,215)"/>
<rect x="391.8" y="432.8" width="1.3" height="1.0" fill="rgb(159,159,159)"/>
<rect x="406.8" y="421.6" width="1.3" height="1.4" fill="rgb(168,168,168)"/>
<rect x="415.7" y="422.7" width="1.3" height="0.8" fill="rgb(158,158,158)"/>
<rect x="418.4" y="413.0" width="1.3" height="0.7" fill="rgb(190,190,190)"/>
<rect x="406.4" y="408.6" width="0.7" height="1.4" fill="rgb(152,152,152)"/>
<rect x="419.9" y="424.3" width="1.1" height="1.2" fill="rgb(171,171,171)"/>
<rect x="400.7" y="422.5" width="0.6" height="0.8" fill="rgb(206,206,206)"/>
<rect x="403.6" y="410.4" width="1.1" height="0.7" fill="rgb(177,177,177)"/>
<rect x="405.4" y="413.6" width="0.9" height="1.1" fill="rgb(189,189,189)"/>
<rect x="388.8" y="424.6" width="1.4" height="1.1" fill="rgb(160,160,160)"/>
<rect x="403.7" y="417.6" width="1.2" height="1.2" fill="rgb(193,193,193)"/>
<rect x="413.4" y="419.6" width="1.3" height="1.3" fill="rgb(219,219,219)"/>
<rect x="401.6" y="418.2" width="1.3" height="1.0" fill="rgb(189,189,189)"/>
<rect x="405.6" y="418.2" width="0.9" height="0.6" fill="rgb(213,213,213)"/>
<rect x="412.5" y="430.8" width="1.1" height="1.2" fill="rgb(201,201,201)"/>
<rect x="398.0" y="422.5" width="0.7" height="1.0" fill="rgb(154,154,154)"/>
<rect x="404.8" y="417.2" width="1.2" height="1.0" fill="rgb(153,153,153)"/>
<rect x="395.8" y="414.8" width="0.8" height="0.7" fill="rgb(177,177,177)"/>
<rect x="418.9" y="432.6" width="1.3" height="0.9" fill="rgb(196,196,196)"/>
<rect x="415.3" y="412.5" width="1.1" height="1.3" fill="rgb(202,202,202)"/>
<rect x="390.9" y="427.9" width="1.0" height="1.4" fill="rgb(158,158,158)"/>
<rect x="387.5" y="413.1" width="0.9" height="0.7" fill="rgb(170,170,170)"/>
<rect x="418.4" y="428.5" width="0.9" height="1.1" fill="rgb(177,177,177)"/>
<rect x="389.1" y="407.3" width="0.8" height="1.0" fill="rgb(212,212,212)"/>
<rect x="419.7" y="432.9" width="0.8" height="0.8" fill="rgb(183,183,183)"/>
<rect x="419.3" y="430.7" width="1.3" height="0.9" fill="rgb(163,163,163)"/>
<rect x="403.8" y="411.1" width="1.4" height="0.8" fill="rgb(211,211,211)"/>
<rect x="409.3" y="411.7" width="0.6" height="0.7" fill="rgb(211,211,211)"/>
<rect x="412.5" y="415.0" width="1.3" height="1.2" fill="rgb(213,213,213)"/>
<rect x="392.2" y="425.3" width="1.0" height="0.7" fill="rgb(215,215,215)"/>
<rect x="395.2" y="414.8" width="0.8" height="0.7" fill="rgb(199,199,199)"/>
<rect x="395.6" y="424.4" width="0.9" height="1.1" fill="rgb(205,205,205)"/>
<rect x="418.0" y="422.4" width="0.8" height="1.3" fill="rgb(166,166,166)"/>
<rect x="410.5" y="414.0" width="0.7" height="1.4" fill="rgb(194,194,194)"/>
<rect x="402.7" y="420.8" width="0.6" height="1.1" fill="rgb(187,187,187)"/>
<rect x="397.3" y="413.3" width="0.7" height="0.8" fill="rgb(206,206,206)"/>
<rect x="413.6" y="413.1" width="1.0" height="0.7" fill="rgb(169,169,169)"/>
<rect x="418.4" y="433.2" width="1.0" height="1.2" fill="rgb(152,152,152)"/>
<rect x="400.8" y="431.6" width="0.7" height="1.0" fill="rgb(184,184,184)"/>
<rect x="409.8" y="416.2" width="1.2" height="1.0" fill="rgb(196,196,196)"/>
<rect x="404.9" y="429.3" width="1.0" height="1.4" fill="rgb(197,197,197)"/>
<rect x="393.5" y="427.6" width="1.1" height="0.8" fill="rgb(161,161,161)"/>
<rect x="402.7" y="427.4" width="1.2" height="0.8" fill="rgb(205,205,205)"/>
<rect x="404.4" y="412.5" width="1.0" height="0.6" fill="rgb(190,190,190)"/>
<rect x="408.1" y="425.8" width="1.3" height="0.7" fill="rgb(190,190,190)"/>
<rect x="392.7" y="407.0" width="0.9" height="1.0" fill="rgb(184,184,184)"/>
<rect x="396.6" y="428.1" width="1.3" height="1.1" fill="rgb(155,155,155)"/>
<rect x="406.2" y="427.9" width="0.7" height="0.8" fill="rgb(166,166,166)"/>
<rect x="389.0" y="415.0" width="1.0" height="0.8" fill="rgb(193,193,193)"/>
<rect x="407.8" y="408.9" width="0.7" height="0.8" fill="rgb(207,207,207)"/>
<polygon points="413,406.5 422,406.5 422,416" fill="#bdbdbd" filter="url(#b3)"/>
</g>
</g>
<rect x="387.5" y="406.5" width="34.5" height="27.0" fill="none" stroke="#4a4a4a" stroke-width="0.9"/>
</svg>
</body></html>
